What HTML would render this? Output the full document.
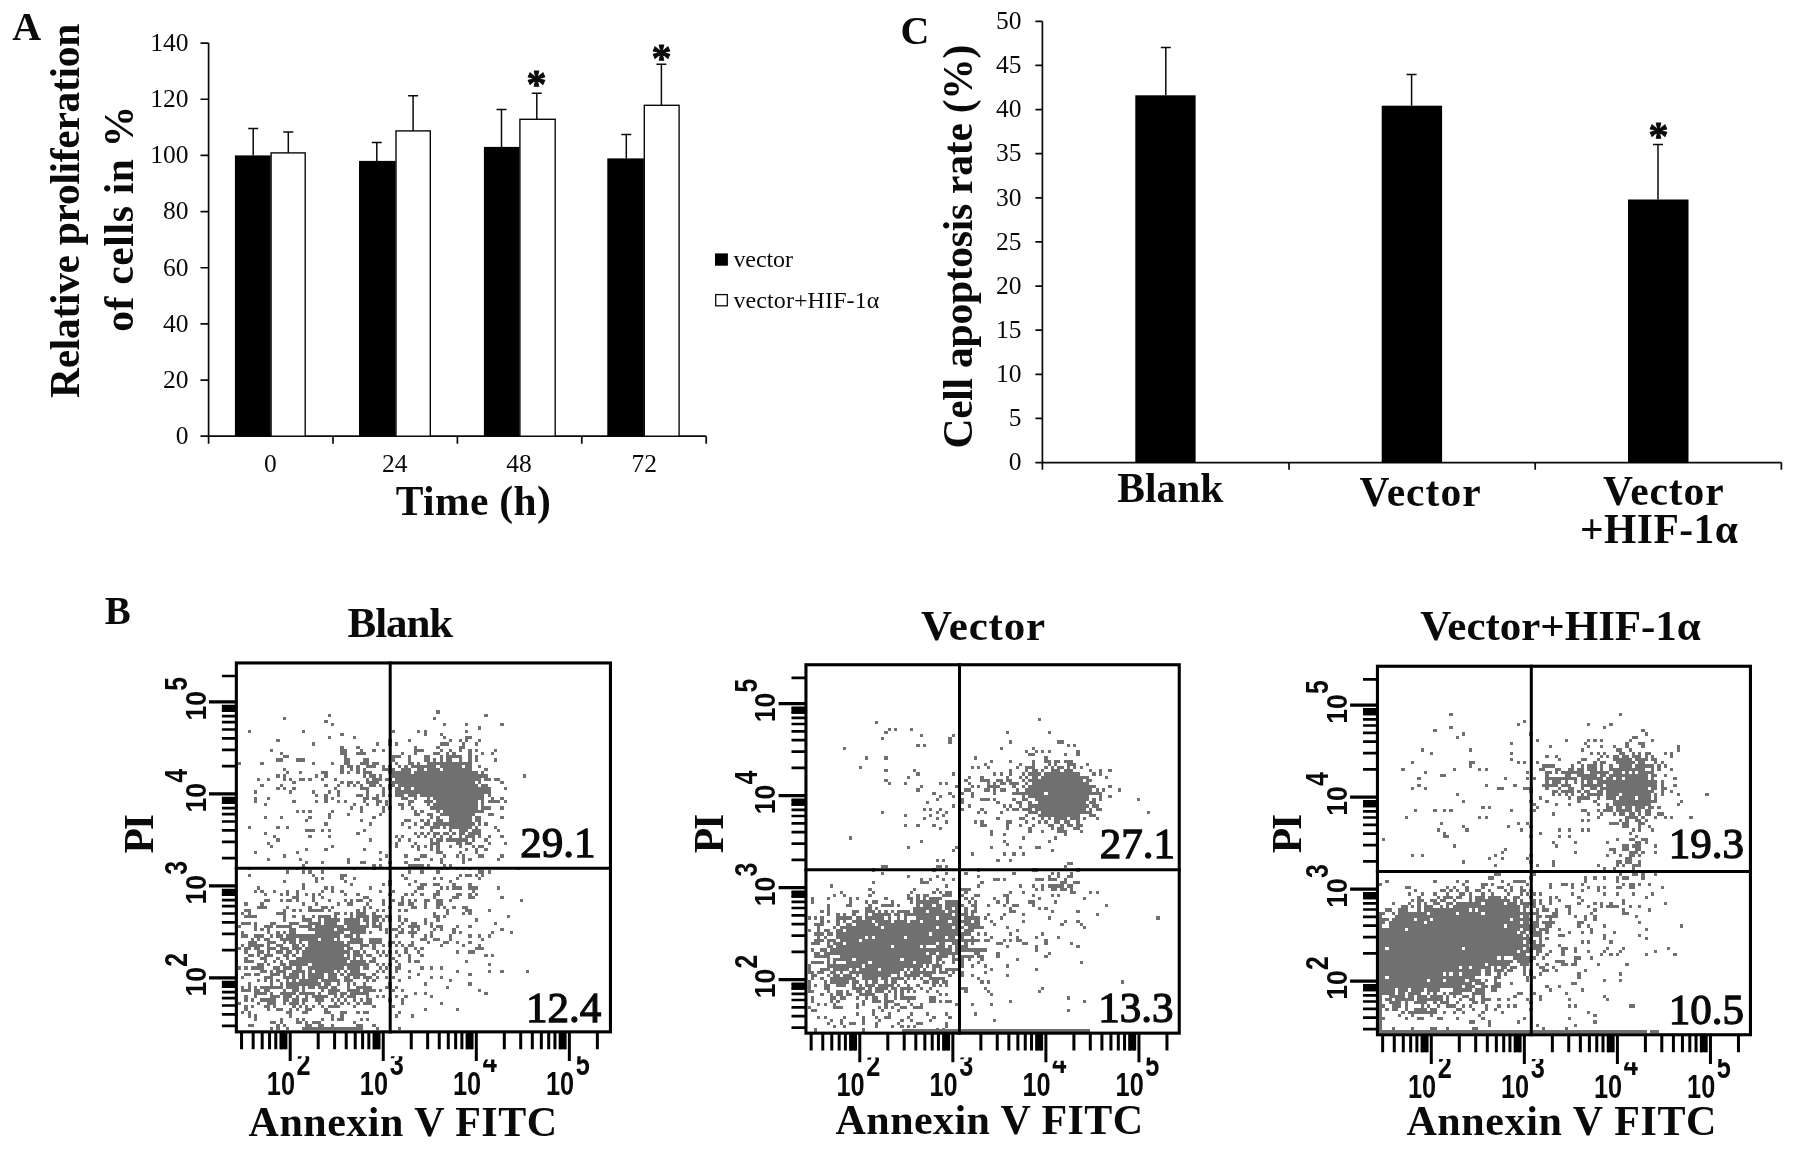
<!DOCTYPE html>
<html lang="en"><head><meta charset="utf-8"><title>Figure: HIF-1α proliferation and apoptosis</title>
<style>html,body{margin:0;padding:0;background:#fff}body{width:1795px;height:1150px;overflow:hidden}svg{display:block;will-change:transform}text{font-family:"Liberation Serif", "DejaVu Serif", serif;fill:#0a0a0a}text.a{font-family:"Liberation Sans", "DejaVu Sans", sans-serif}</style>
</head><body>
<svg width="1795" height="1150" viewBox="0 0 1795 1150">
<rect width="1795" height="1150" fill="#fff"/>
<g id="panelA">
<text x="12.2" y="40" font-size="40" font-weight="700">A</text>
<path d="M208.6 43.1V436.2M200.5 43.1H208.6M200.5 99.26H208.6M200.5 155.41H208.6M200.5 211.57H208.6M200.5 267.73H208.6M200.5 323.89H208.6M200.5 380.04H208.6M200.5 436.2H208.6M200.5 436.2H706.2M208.6 436.2V443.8M333 436.2V443.8M457.4 436.2V443.8M581.8 436.2V443.8M706.2 436.2V443.8" stroke="#0a0a0a" stroke-width="1.7" fill="none"/>
<text x="188.6" y="50.9" font-size="25.5" text-anchor="end">140</text>
<text x="188.6" y="107.06" font-size="25.5" text-anchor="end">120</text>
<text x="188.6" y="163.21" font-size="25.5" text-anchor="end">100</text>
<text x="188.6" y="219.37" font-size="25.5" text-anchor="end">80</text>
<text x="188.6" y="275.53" font-size="25.5" text-anchor="end">60</text>
<text x="188.6" y="331.69" font-size="25.5" text-anchor="end">40</text>
<text x="188.6" y="387.84" font-size="25.5" text-anchor="end">20</text>
<text x="188.6" y="444" font-size="25.5" text-anchor="end">0</text>
<rect x="234.9" y="155.4" width="35.8" height="280.8" fill="#000"/>
<rect x="359" y="160.9" width="36.6" height="275.3" fill="#000"/>
<rect x="483.9" y="146.9" width="35.6" height="289.3" fill="#000"/>
<rect x="607.3" y="158.4" width="36.6" height="277.8" fill="#000"/>
<rect x="271.1" y="152.9" width="34.1" height="283.3" fill="#fff" stroke="#0a0a0a" stroke-width="1.4"/>
<rect x="396" y="130.9" width="34.3" height="305.3" fill="#fff" stroke="#0a0a0a" stroke-width="1.4"/>
<rect x="519.9" y="119.3" width="35.3" height="316.9" fill="#fff" stroke="#0a0a0a" stroke-width="1.4"/>
<rect x="644.3" y="105.3" width="34.8" height="330.9" fill="#fff" stroke="#0a0a0a" stroke-width="1.4"/>
<path d="M253.2 155.4V128.6M248.2 128.6H258.2M376.8 160.9V142.4M371.8 142.4H381.8M501.5 146.9V109.6M496.5 109.6H506.5M626.3 158.4V134.4M621.3 134.4H631.3M288.3 152.9V132.1M283.3 132.1H293.3M413.1 130.9V95.8M408.1 95.8H418.1M536.8 119.3V93.3M531.8 93.3H541.8M661.4 105.3V64.2M656.4 64.2H666.4" stroke="#0a0a0a" stroke-width="1.5" fill="none"/>
<text x="270.4" y="471.6" font-size="25.5" text-anchor="middle">0</text>
<text x="394.7" y="471.6" font-size="25.5" text-anchor="middle">24</text>
<text x="519" y="471.6" font-size="25.5" text-anchor="middle">48</text>
<text x="644.3" y="471.6" font-size="25.5" text-anchor="middle">72</text>
<text x="395.8" y="515.3" font-size="41.5" font-weight="700" textLength="155" lengthAdjust="spacing">Time (h)</text>
<text x="536.6" y="97.3" font-size="40" font-weight="700" text-anchor="middle" stroke="#0a0a0a" stroke-width=".9">*</text>
<text x="661.4" y="70.5" font-size="40" font-weight="700" text-anchor="middle" stroke="#0a0a0a" stroke-width=".9">*</text>
<text transform="translate(79,398) rotate(-90)" font-size="41.5" font-weight="700" textLength="374.3" lengthAdjust="spacing">Relative proliferation</text>
<text transform="translate(133.3,331.8) rotate(-90)" font-size="41.5" font-weight="700" textLength="226" lengthAdjust="spacing">of cells in %</text>
<rect x="715" y="253.4" width="12.9" height="12.3" fill="#000"/>
<rect x="715.7" y="294.6" width="11.6" height="11.2" fill="#fff" stroke="#0a0a0a" stroke-width="1.3"/>
<text x="733.4" y="266.8" font-size="24" textLength="59.6" lengthAdjust="spacing">vector</text>
<text x="733.4" y="308" font-size="24" textLength="146" lengthAdjust="spacing">vector+HIF-1α</text>
</g>
<g id="panelC">
<text x="900.6" y="44" font-size="40" font-weight="700">C</text>
<path d="M1042.4 21.3V462.6M1035.4 21.3H1042.4M1035.4 65.43H1042.4M1035.4 109.56H1042.4M1035.4 153.69H1042.4M1035.4 197.82H1042.4M1035.4 241.95H1042.4M1035.4 286.08H1042.4M1035.4 330.21H1042.4M1035.4 374.34H1042.4M1035.4 418.47H1042.4M1035.4 462.6H1042.4M1035.4 462.6H1781.4M1042.4 462.6V469.8M1289 462.6V469.8M1535.2 462.6V469.8M1781.4 462.6V469.8" stroke="#0a0a0a" stroke-width="1.7" fill="none"/>
<text x="1021.6" y="29.1" font-size="25.5" text-anchor="end">50</text>
<text x="1021.6" y="73.23" font-size="25.5" text-anchor="end">45</text>
<text x="1021.6" y="117.36" font-size="25.5" text-anchor="end">40</text>
<text x="1021.6" y="161.49" font-size="25.5" text-anchor="end">35</text>
<text x="1021.6" y="205.62" font-size="25.5" text-anchor="end">30</text>
<text x="1021.6" y="249.75" font-size="25.5" text-anchor="end">25</text>
<text x="1021.6" y="293.88" font-size="25.5" text-anchor="end">20</text>
<text x="1021.6" y="338.01" font-size="25.5" text-anchor="end">15</text>
<text x="1021.6" y="382.14" font-size="25.5" text-anchor="end">10</text>
<text x="1021.6" y="426.27" font-size="25.5" text-anchor="end">5</text>
<text x="1021.6" y="470.4" font-size="25.5" text-anchor="end">0</text>
<rect x="1135.3" y="95.3" width="60.3" height="367.3" fill="#000"/>
<rect x="1381.7" y="105.7" width="60.4" height="356.9" fill="#000"/>
<rect x="1628" y="199.5" width="60.5" height="263.1" fill="#000"/>
<path d="M1165.8 95.3V47.4M1160.8 47.4H1170.8M1411.6 105.7V74.6M1406.6 74.6H1416.6M1658 199.5V144.6M1653 144.6H1663" stroke="#0a0a0a" stroke-width="1.5" fill="none"/>
<text x="1658.5" y="149.2" font-size="40" font-weight="700" text-anchor="middle" stroke="#0a0a0a" stroke-width=".9">*</text>
<text x="1117.3" y="502.2" font-size="41.5" font-weight="700" textLength="106" lengthAdjust="spacing">Blank</text>
<text x="1359.4" y="505.5" font-size="41.5" font-weight="700" textLength="121.3" lengthAdjust="spacing">Vector</text>
<text x="1603.1" y="504.7" font-size="41.5" font-weight="700" textLength="120.6" lengthAdjust="spacing">Vector</text>
<text x="1580" y="543.2" font-size="41.5" font-weight="700" textLength="157.8" lengthAdjust="spacing">+HIF-1α</text>
<text transform="translate(972,448.6) rotate(-90)" font-size="41.5" font-weight="700" textLength="404" lengthAdjust="spacing">Cell apoptosis rate (%)</text>
</g>
<defs><clipPath id="supclip"><rect x="-2" y="-18.8" width="30" height="30"/></clipPath><clipPath id="supclip4"><rect x="-2" y="-12.6" width="30" height="30"/></clipPath></defs>
<g id="panelB">
<text x="104.8" y="624.4" font-size="39" font-weight="700">B</text>
<g>
<path d="M269.9 1027.1h3.2v3.2h-3.2zM276.3 1027.1h3.2v3.2h-3.2zM285.9 1027.1h3.2v3.2h-3.2zM301.9 1027.1h6.4v3.2h-6.4zM311.5 1027.1h3.2v3.2h-3.2zM321.1 1027.1h3.2v3.2h-3.2zM375.5 1027.1h3.2v3.2h-3.2zM397.9 1027.1h3.2v3.2h-3.2zM247.5 1023.9h6.4v3.2h-6.4zM276.3 1023.9h3.2v3.2h-3.2zM282.7 1023.9h3.2v3.2h-3.2zM305.1 1023.9h6.4v3.2h-6.4zM317.9 1023.9h6.4v3.2h-6.4zM330.7 1023.9h3.2v3.2h-3.2zM356.3 1023.9h6.4v3.2h-6.4zM372.3 1023.9h3.2v3.2h-3.2zM269.9 1020.7h6.4v3.2h-6.4zM279.5 1020.7h3.2v3.2h-3.2zM295.5 1020.7h6.4v3.2h-6.4zM305.1 1020.7h3.2v3.2h-3.2zM311.5 1020.7h9.6v3.2h-9.6zM353.1 1020.7h3.2v3.2h-3.2zM253.9 1017.5h3.2v3.2h-3.2zM279.5 1017.5h3.2v3.2h-3.2zM295.5 1017.5h3.2v3.2h-3.2zM301.9 1017.5h3.2v3.2h-3.2zM321.1 1017.5h3.2v3.2h-3.2zM330.7 1017.5h3.2v3.2h-3.2zM337.1 1017.5h6.4v3.2h-6.4zM359.5 1017.5h3.2v3.2h-3.2zM365.9 1017.5h3.2v3.2h-3.2zM247.5 1014.3h3.2v3.2h-3.2zM253.9 1014.3h3.2v3.2h-3.2zM289.1 1014.3h3.2v3.2h-3.2zM330.7 1014.3h3.2v3.2h-3.2zM340.3 1014.3h3.2v3.2h-3.2zM394.7 1014.3h3.2v3.2h-3.2zM410.7 1014.3h3.2v3.2h-3.2zM241.1 1011.1h3.2v3.2h-3.2zM247.5 1011.1h3.2v3.2h-3.2zM285.9 1011.1h6.4v3.2h-6.4zM301.9 1011.1h6.4v3.2h-6.4zM324.3 1011.1h6.4v3.2h-6.4zM340.3 1011.1h6.4v3.2h-6.4zM356.3 1011.1h3.2v3.2h-3.2zM362.7 1011.1h6.4v3.2h-6.4zM397.9 1011.1h3.2v3.2h-3.2zM244.3 1007.9h3.2v3.2h-3.2zM266.7 1007.9h3.2v3.2h-3.2zM276.3 1007.9h6.4v3.2h-6.4zM289.1 1007.9h3.2v3.2h-3.2zM295.5 1007.9h3.2v3.2h-3.2zM305.1 1007.9h6.4v3.2h-6.4zM324.3 1007.9h3.2v3.2h-3.2zM423.5 1007.9h3.2v3.2h-3.2zM455.5 1007.9h3.2v3.2h-3.2zM244.3 1004.7h3.2v3.2h-3.2zM250.7 1004.7h3.2v3.2h-3.2zM263.5 1004.7h6.4v3.2h-6.4zM273.1 1004.7h3.2v3.2h-3.2zM292.3 1004.7h3.2v3.2h-3.2zM298.7 1004.7h3.2v3.2h-3.2zM305.1 1004.7h3.2v3.2h-3.2zM311.5 1004.7h3.2v3.2h-3.2zM321.1 1004.7h3.2v3.2h-3.2zM327.5 1004.7h12.8v3.2h-12.8zM353.1 1004.7h3.2v3.2h-3.2zM372.3 1004.7h3.2v3.2h-3.2zM391.5 1004.7h3.2v3.2h-3.2zM237.9 1001.5h3.2v3.2h-3.2zM257.1 1001.5h3.2v3.2h-3.2zM266.7 1001.5h9.6v3.2h-9.6zM282.7 1001.5h3.2v3.2h-3.2zM289.1 1001.5h9.6v3.2h-9.6zM301.9 1001.5h3.2v3.2h-3.2zM317.9 1001.5h3.2v3.2h-3.2zM333.9 1001.5h3.2v3.2h-3.2zM340.3 1001.5h3.2v3.2h-3.2zM346.7 1001.5h3.2v3.2h-3.2zM356.3 1001.5h3.2v3.2h-3.2zM362.7 1001.5h9.6v3.2h-9.6zM401.1 1001.5h3.2v3.2h-3.2zM439.5 1001.5h3.2v3.2h-3.2zM244.3 998.3h3.2v3.2h-3.2zM250.7 998.3h3.2v3.2h-3.2zM260.3 998.3h16v3.2h-16zM282.7 998.3h6.4v3.2h-6.4zM292.3 998.3h6.4v3.2h-6.4zM301.9 998.3h6.4v3.2h-6.4zM314.7 998.3h9.6v3.2h-9.6zM330.7 998.3h3.2v3.2h-3.2zM337.1 998.3h3.2v3.2h-3.2zM343.5 998.3h3.2v3.2h-3.2zM353.1 998.3h3.2v3.2h-3.2zM359.5 998.3h3.2v3.2h-3.2zM365.9 998.3h6.4v3.2h-6.4zM388.3 998.3h3.2v3.2h-3.2zM401.1 998.3h3.2v3.2h-3.2zM244.3 995.1h3.2v3.2h-3.2zM253.9 995.1h3.2v3.2h-3.2zM269.9 995.1h9.6v3.2h-9.6zM282.7 995.1h9.6v3.2h-9.6zM295.5 995.1h3.2v3.2h-3.2zM305.1 995.1h3.2v3.2h-3.2zM311.5 995.1h16v3.2h-16zM333.9 995.1h3.2v3.2h-3.2zM340.3 995.1h3.2v3.2h-3.2zM346.7 995.1h9.6v3.2h-9.6zM365.9 995.1h3.2v3.2h-3.2zM375.5 995.1h3.2v3.2h-3.2zM381.9 995.1h3.2v3.2h-3.2zM394.7 995.1h3.2v3.2h-3.2zM404.3 995.1h3.2v3.2h-3.2zM429.9 995.1h3.2v3.2h-3.2zM253.9 991.9h12.8v3.2h-12.8zM269.9 991.9h3.2v3.2h-3.2zM279.5 991.9h16v3.2h-16zM298.7 991.9h16v3.2h-16zM317.9 991.9h3.2v3.2h-3.2zM327.5 991.9h9.6v3.2h-9.6zM340.3 991.9h6.4v3.2h-6.4zM349.9 991.9h19.2v3.2h-19.2zM413.9 991.9h3.2v3.2h-3.2zM423.5 991.9h3.2v3.2h-3.2zM484.3 991.9h3.2v3.2h-3.2zM241.1 988.7h9.6v3.2h-9.6zM253.9 988.7h6.4v3.2h-6.4zM263.5 988.7h6.4v3.2h-6.4zM282.7 988.7h3.2v3.2h-3.2zM292.3 988.7h6.4v3.2h-6.4zM301.9 988.7h3.2v3.2h-3.2zM321.1 988.7h3.2v3.2h-3.2zM327.5 988.7h12.8v3.2h-12.8zM346.7 988.7h12.8v3.2h-12.8zM362.7 988.7h12.8v3.2h-12.8zM378.7 988.7h3.2v3.2h-3.2zM391.5 988.7h3.2v3.2h-3.2zM401.1 988.7h3.2v3.2h-3.2zM477.9 988.7h3.2v3.2h-3.2zM241.1 985.5h3.2v3.2h-3.2zM247.5 985.5h3.2v3.2h-3.2zM253.9 985.5h3.2v3.2h-3.2zM260.3 985.5h22.4v3.2h-22.4zM285.9 985.5h12.8v3.2h-12.8zM301.9 985.5h3.2v3.2h-3.2zM308.3 985.5h6.4v3.2h-6.4zM317.9 985.5h9.6v3.2h-9.6zM330.7 985.5h6.4v3.2h-6.4zM346.7 985.5h3.2v3.2h-3.2zM356.3 985.5h16v3.2h-16zM385.1 985.5h6.4v3.2h-6.4zM394.7 985.5h3.2v3.2h-3.2zM445.9 985.5h3.2v3.2h-3.2zM247.5 982.3h3.2v3.2h-3.2zM269.9 982.3h3.2v3.2h-3.2zM279.5 982.3h3.2v3.2h-3.2zM285.9 982.3h35.2v3.2h-35.2zM324.3 982.3h6.4v3.2h-6.4zM337.1 982.3h3.2v3.2h-3.2zM346.7 982.3h3.2v3.2h-3.2zM353.1 982.3h3.2v3.2h-3.2zM362.7 982.3h3.2v3.2h-3.2zM388.3 982.3h3.2v3.2h-3.2zM423.5 982.3h3.2v3.2h-3.2zM468.3 982.3h3.2v3.2h-3.2zM257.1 979.1h3.2v3.2h-3.2zM263.5 979.1h3.2v3.2h-3.2zM269.9 979.1h3.2v3.2h-3.2zM276.3 979.1h3.2v3.2h-3.2zM285.9 979.1h3.2v3.2h-3.2zM292.3 979.1h3.2v3.2h-3.2zM298.7 979.1h19.2v3.2h-19.2zM321.1 979.1h19.2v3.2h-19.2zM343.5 979.1h9.6v3.2h-9.6zM365.9 979.1h3.2v3.2h-3.2zM372.3 979.1h3.2v3.2h-3.2zM397.9 979.1h3.2v3.2h-3.2zM449.1 979.1h3.2v3.2h-3.2zM241.1 975.9h3.2v3.2h-3.2zM263.5 975.9h9.6v3.2h-9.6zM282.7 975.9h16v3.2h-16zM301.9 975.9h3.2v3.2h-3.2zM308.3 975.9h16v3.2h-16zM327.5 975.9h9.6v3.2h-9.6zM343.5 975.9h6.4v3.2h-6.4zM353.1 975.9h6.4v3.2h-6.4zM362.7 975.9h9.6v3.2h-9.6zM375.5 975.9h3.2v3.2h-3.2zM385.1 975.9h3.2v3.2h-3.2zM391.5 975.9h3.2v3.2h-3.2zM407.5 975.9h3.2v3.2h-3.2zM429.9 975.9h3.2v3.2h-3.2zM439.5 975.9h3.2v3.2h-3.2zM244.3 972.7h6.4v3.2h-6.4zM253.9 972.7h6.4v3.2h-6.4zM269.9 972.7h9.6v3.2h-9.6zM282.7 972.7h3.2v3.2h-3.2zM289.1 972.7h9.6v3.2h-9.6zM301.9 972.7h3.2v3.2h-3.2zM308.3 972.7h16v3.2h-16zM327.5 972.7h9.6v3.2h-9.6zM340.3 972.7h3.2v3.2h-3.2zM346.7 972.7h19.2v3.2h-19.2zM372.3 972.7h3.2v3.2h-3.2zM417.1 972.7h3.2v3.2h-3.2zM468.3 972.7h3.2v3.2h-3.2zM260.3 969.5h6.4v3.2h-6.4zM269.9 969.5h3.2v3.2h-3.2zM276.3 969.5h9.6v3.2h-9.6zM292.3 969.5h12.8v3.2h-12.8zM308.3 969.5h3.2v3.2h-3.2zM314.7 969.5h19.2v3.2h-19.2zM337.1 969.5h3.2v3.2h-3.2zM343.5 969.5h3.2v3.2h-3.2zM349.9 969.5h9.6v3.2h-9.6zM375.5 969.5h3.2v3.2h-3.2zM381.9 969.5h3.2v3.2h-3.2zM394.7 969.5h3.2v3.2h-3.2zM407.5 969.5h3.2v3.2h-3.2zM455.5 969.5h3.2v3.2h-3.2zM487.5 969.5h3.2v3.2h-3.2zM500.3 969.5h3.2v3.2h-3.2zM525.9 969.5h3.2v3.2h-3.2zM237.9 966.3h3.2v3.2h-3.2zM244.3 966.3h3.2v3.2h-3.2zM250.7 966.3h12.8v3.2h-12.8zM273.1 966.3h6.4v3.2h-6.4zM282.7 966.3h9.6v3.2h-9.6zM295.5 966.3h6.4v3.2h-6.4zM308.3 966.3h35.2v3.2h-35.2zM346.7 966.3h12.8v3.2h-12.8zM362.7 966.3h6.4v3.2h-6.4zM378.7 966.3h3.2v3.2h-3.2zM385.1 966.3h3.2v3.2h-3.2zM394.7 966.3h6.4v3.2h-6.4zM420.3 966.3h3.2v3.2h-3.2zM429.9 966.3h3.2v3.2h-3.2zM439.5 966.3h3.2v3.2h-3.2zM257.1 963.1h6.4v3.2h-6.4zM266.7 963.1h3.2v3.2h-3.2zM279.5 963.1h6.4v3.2h-6.4zM289.1 963.1h19.2v3.2h-19.2zM311.5 963.1h57.6v3.2h-57.6zM375.5 963.1h3.2v3.2h-3.2zM381.9 963.1h3.2v3.2h-3.2zM388.3 963.1h3.2v3.2h-3.2zM397.9 963.1h3.2v3.2h-3.2zM487.5 963.1h3.2v3.2h-3.2zM244.3 959.9h9.6v3.2h-9.6zM263.5 959.9h3.2v3.2h-3.2zM273.1 959.9h3.2v3.2h-3.2zM279.5 959.9h3.2v3.2h-3.2zM289.1 959.9h57.6v3.2h-57.6zM349.9 959.9h16v3.2h-16zM369.1 959.9h6.4v3.2h-6.4zM394.7 959.9h3.2v3.2h-3.2zM407.5 959.9h3.2v3.2h-3.2zM413.9 959.9h6.4v3.2h-6.4zM465.1 959.9h3.2v3.2h-3.2zM244.3 956.7h3.2v3.2h-3.2zM260.3 956.7h6.4v3.2h-6.4zM276.3 956.7h3.2v3.2h-3.2zM285.9 956.7h3.2v3.2h-3.2zM295.5 956.7h54.4v3.2h-54.4zM353.1 956.7h3.2v3.2h-3.2zM359.5 956.7h3.2v3.2h-3.2zM372.3 956.7h3.2v3.2h-3.2zM391.5 956.7h3.2v3.2h-3.2zM407.5 956.7h3.2v3.2h-3.2zM247.5 953.5h6.4v3.2h-6.4zM257.1 953.5h3.2v3.2h-3.2zM263.5 953.5h9.6v3.2h-9.6zM282.7 953.5h6.4v3.2h-6.4zM292.3 953.5h3.2v3.2h-3.2zM301.9 953.5h41.6v3.2h-41.6zM346.7 953.5h3.2v3.2h-3.2zM353.1 953.5h9.6v3.2h-9.6zM365.9 953.5h6.4v3.2h-6.4zM378.7 953.5h3.2v3.2h-3.2zM385.1 953.5h3.2v3.2h-3.2zM397.9 953.5h3.2v3.2h-3.2zM407.5 953.5h3.2v3.2h-3.2zM420.3 953.5h3.2v3.2h-3.2zM484.3 953.5h3.2v3.2h-3.2zM490.7 953.5h3.2v3.2h-3.2zM244.3 950.3h3.2v3.2h-3.2zM257.1 950.3h6.4v3.2h-6.4zM266.7 950.3h3.2v3.2h-3.2zM276.3 950.3h6.4v3.2h-6.4zM285.9 950.3h6.4v3.2h-6.4zM295.5 950.3h3.2v3.2h-3.2zM301.9 950.3h48v3.2h-48zM353.1 950.3h6.4v3.2h-6.4zM362.7 950.3h3.2v3.2h-3.2zM375.5 950.3h3.2v3.2h-3.2zM381.9 950.3h3.2v3.2h-3.2zM388.3 950.3h3.2v3.2h-3.2zM394.7 950.3h3.2v3.2h-3.2zM404.3 950.3h3.2v3.2h-3.2zM417.1 950.3h3.2v3.2h-3.2zM455.5 950.3h3.2v3.2h-3.2zM468.3 950.3h6.4v3.2h-6.4zM237.9 947.1h3.2v3.2h-3.2zM244.3 947.1h6.4v3.2h-6.4zM253.9 947.1h6.4v3.2h-6.4zM266.7 947.1h9.6v3.2h-9.6zM279.5 947.1h9.6v3.2h-9.6zM292.3 947.1h9.6v3.2h-9.6zM305.1 947.1h38.4v3.2h-38.4zM346.7 947.1h6.4v3.2h-6.4zM359.5 947.1h3.2v3.2h-3.2zM372.3 947.1h3.2v3.2h-3.2zM404.3 947.1h3.2v3.2h-3.2zM413.9 947.1h3.2v3.2h-3.2zM420.3 947.1h3.2v3.2h-3.2zM474.7 947.1h9.6v3.2h-9.6zM241.1 943.9h3.2v3.2h-3.2zM247.5 943.9h16v3.2h-16zM266.7 943.9h3.2v3.2h-3.2zM276.3 943.9h6.4v3.2h-6.4zM292.3 943.9h6.4v3.2h-6.4zM301.9 943.9h3.2v3.2h-3.2zM308.3 943.9h41.6v3.2h-41.6zM359.5 943.9h9.6v3.2h-9.6zM372.3 943.9h3.2v3.2h-3.2zM381.9 943.9h3.2v3.2h-3.2zM388.3 943.9h3.2v3.2h-3.2zM394.7 943.9h3.2v3.2h-3.2zM401.1 943.9h3.2v3.2h-3.2zM407.5 943.9h6.4v3.2h-6.4zM439.5 943.9h3.2v3.2h-3.2zM461.9 943.9h3.2v3.2h-3.2zM477.9 943.9h3.2v3.2h-3.2zM247.5 940.7h9.6v3.2h-9.6zM266.7 940.7h9.6v3.2h-9.6zM282.7 940.7h3.2v3.2h-3.2zM289.1 940.7h6.4v3.2h-6.4zM298.7 940.7h3.2v3.2h-3.2zM308.3 940.7h35.2v3.2h-35.2zM346.7 940.7h16v3.2h-16zM369.1 940.7h12.8v3.2h-12.8zM388.3 940.7h6.4v3.2h-6.4zM397.9 940.7h3.2v3.2h-3.2zM410.7 940.7h3.2v3.2h-3.2zM426.7 940.7h3.2v3.2h-3.2zM442.7 940.7h6.4v3.2h-6.4zM455.5 940.7h3.2v3.2h-3.2zM468.3 940.7h3.2v3.2h-3.2zM250.7 937.5h3.2v3.2h-3.2zM257.1 937.5h3.2v3.2h-3.2zM263.5 937.5h6.4v3.2h-6.4zM279.5 937.5h16v3.2h-16zM298.7 937.5h19.2v3.2h-19.2zM321.1 937.5h12.8v3.2h-12.8zM337.1 937.5h3.2v3.2h-3.2zM349.9 937.5h12.8v3.2h-12.8zM369.1 937.5h12.8v3.2h-12.8zM420.3 937.5h6.4v3.2h-6.4zM433.1 937.5h6.4v3.2h-6.4zM449.1 937.5h3.2v3.2h-3.2zM481.1 937.5h3.2v3.2h-3.2zM241.1 934.3h6.4v3.2h-6.4zM253.9 934.3h9.6v3.2h-9.6zM269.9 934.3h3.2v3.2h-3.2zM276.3 934.3h6.4v3.2h-6.4zM285.9 934.3h54.4v3.2h-54.4zM343.5 934.3h9.6v3.2h-9.6zM356.3 934.3h3.2v3.2h-3.2zM394.7 934.3h3.2v3.2h-3.2zM410.7 934.3h3.2v3.2h-3.2zM423.5 934.3h3.2v3.2h-3.2zM429.9 934.3h3.2v3.2h-3.2zM449.1 934.3h3.2v3.2h-3.2zM468.3 934.3h3.2v3.2h-3.2zM477.9 934.3h3.2v3.2h-3.2zM487.5 934.3h3.2v3.2h-3.2zM241.1 931.1h3.2v3.2h-3.2zM266.7 931.1h3.2v3.2h-3.2zM276.3 931.1h3.2v3.2h-3.2zM282.7 931.1h3.2v3.2h-3.2zM289.1 931.1h6.4v3.2h-6.4zM314.7 931.1h28.8v3.2h-28.8zM349.9 931.1h16v3.2h-16zM369.1 931.1h3.2v3.2h-3.2zM385.1 931.1h3.2v3.2h-3.2zM397.9 931.1h6.4v3.2h-6.4zM407.5 931.1h9.6v3.2h-9.6zM429.9 931.1h3.2v3.2h-3.2zM452.3 931.1h3.2v3.2h-3.2zM458.7 931.1h3.2v3.2h-3.2zM490.7 931.1h3.2v3.2h-3.2zM509.9 931.1h3.2v3.2h-3.2zM253.9 927.9h3.2v3.2h-3.2zM260.3 927.9h3.2v3.2h-3.2zM266.7 927.9h3.2v3.2h-3.2zM289.1 927.9h6.4v3.2h-6.4zM308.3 927.9h25.6v3.2h-25.6zM337.1 927.9h28.8v3.2h-28.8zM378.7 927.9h3.2v3.2h-3.2zM385.1 927.9h3.2v3.2h-3.2zM391.5 927.9h6.4v3.2h-6.4zM401.1 927.9h3.2v3.2h-3.2zM410.7 927.9h3.2v3.2h-3.2zM417.1 927.9h3.2v3.2h-3.2zM433.1 927.9h3.2v3.2h-3.2zM439.5 927.9h3.2v3.2h-3.2zM452.3 927.9h3.2v3.2h-3.2zM500.3 927.9h3.2v3.2h-3.2zM237.9 924.7h3.2v3.2h-3.2zM253.9 924.7h3.2v3.2h-3.2zM263.5 924.7h9.6v3.2h-9.6zM276.3 924.7h16v3.2h-16zM298.7 924.7h12.8v3.2h-12.8zM314.7 924.7h28.8v3.2h-28.8zM346.7 924.7h22.4v3.2h-22.4zM372.3 924.7h9.6v3.2h-9.6zM397.9 924.7h3.2v3.2h-3.2zM407.5 924.7h12.8v3.2h-12.8zM429.9 924.7h3.2v3.2h-3.2zM436.3 924.7h6.4v3.2h-6.4zM455.5 924.7h3.2v3.2h-3.2zM468.3 924.7h3.2v3.2h-3.2zM241.1 921.5h9.6v3.2h-9.6zM253.9 921.5h3.2v3.2h-3.2zM269.9 921.5h6.4v3.2h-6.4zM289.1 921.5h9.6v3.2h-9.6zM308.3 921.5h12.8v3.2h-12.8zM324.3 921.5h12.8v3.2h-12.8zM343.5 921.5h16v3.2h-16zM365.9 921.5h3.2v3.2h-3.2zM372.3 921.5h3.2v3.2h-3.2zM378.7 921.5h3.2v3.2h-3.2zM401.1 921.5h3.2v3.2h-3.2zM410.7 921.5h6.4v3.2h-6.4zM423.5 921.5h3.2v3.2h-3.2zM429.9 921.5h3.2v3.2h-3.2zM493.9 921.5h3.2v3.2h-3.2zM282.7 918.3h3.2v3.2h-3.2zM301.9 918.3h9.6v3.2h-9.6zM317.9 918.3h3.2v3.2h-3.2zM324.3 918.3h16v3.2h-16zM343.5 918.3h16v3.2h-16zM362.7 918.3h6.4v3.2h-6.4zM372.3 918.3h6.4v3.2h-6.4zM381.9 918.3h3.2v3.2h-3.2zM388.3 918.3h3.2v3.2h-3.2zM397.9 918.3h3.2v3.2h-3.2zM404.3 918.3h3.2v3.2h-3.2zM423.5 918.3h3.2v3.2h-3.2zM436.3 918.3h3.2v3.2h-3.2zM474.7 918.3h3.2v3.2h-3.2zM244.3 915.1h12.8v3.2h-12.8zM282.7 915.1h3.2v3.2h-3.2zM292.3 915.1h3.2v3.2h-3.2zM301.9 915.1h3.2v3.2h-3.2zM311.5 915.1h3.2v3.2h-3.2zM317.9 915.1h12.8v3.2h-12.8zM333.9 915.1h3.2v3.2h-3.2zM349.9 915.1h3.2v3.2h-3.2zM356.3 915.1h12.8v3.2h-12.8zM372.3 915.1h9.6v3.2h-9.6zM385.1 915.1h6.4v3.2h-6.4zM397.9 915.1h3.2v3.2h-3.2zM433.1 915.1h6.4v3.2h-6.4zM442.7 915.1h3.2v3.2h-3.2zM506.7 915.1h3.2v3.2h-3.2zM241.1 911.9h3.2v3.2h-3.2zM247.5 911.9h3.2v3.2h-3.2zM276.3 911.9h9.6v3.2h-9.6zM333.9 911.9h6.4v3.2h-6.4zM343.5 911.9h3.2v3.2h-3.2zM349.9 911.9h3.2v3.2h-3.2zM356.3 911.9h9.6v3.2h-9.6zM372.3 911.9h3.2v3.2h-3.2zM433.1 911.9h3.2v3.2h-3.2zM445.9 911.9h3.2v3.2h-3.2zM461.9 911.9h3.2v3.2h-3.2zM468.3 911.9h3.2v3.2h-3.2zM244.3 908.7h6.4v3.2h-6.4zM282.7 908.7h3.2v3.2h-3.2zM292.3 908.7h3.2v3.2h-3.2zM298.7 908.7h3.2v3.2h-3.2zM308.3 908.7h16v3.2h-16zM327.5 908.7h3.2v3.2h-3.2zM356.3 908.7h3.2v3.2h-3.2zM362.7 908.7h3.2v3.2h-3.2zM375.5 908.7h3.2v3.2h-3.2zM381.9 908.7h3.2v3.2h-3.2zM397.9 908.7h3.2v3.2h-3.2zM404.3 908.7h3.2v3.2h-3.2zM445.9 908.7h3.2v3.2h-3.2zM465.1 908.7h6.4v3.2h-6.4zM487.5 908.7h3.2v3.2h-3.2zM257.1 905.5h9.6v3.2h-9.6zM285.9 905.5h3.2v3.2h-3.2zM308.3 905.5h3.2v3.2h-3.2zM321.1 905.5h6.4v3.2h-6.4zM330.7 905.5h3.2v3.2h-3.2zM362.7 905.5h3.2v3.2h-3.2zM369.1 905.5h3.2v3.2h-3.2zM388.3 905.5h3.2v3.2h-3.2zM410.7 905.5h6.4v3.2h-6.4zM423.5 905.5h3.2v3.2h-3.2zM436.3 905.5h3.2v3.2h-3.2zM442.7 905.5h3.2v3.2h-3.2zM452.3 905.5h3.2v3.2h-3.2zM461.9 905.5h6.4v3.2h-6.4zM244.3 902.3h3.2v3.2h-3.2zM260.3 902.3h3.2v3.2h-3.2zM301.9 902.3h3.2v3.2h-3.2zM314.7 902.3h3.2v3.2h-3.2zM337.1 902.3h3.2v3.2h-3.2zM346.7 902.3h6.4v3.2h-6.4zM365.9 902.3h3.2v3.2h-3.2zM381.9 902.3h3.2v3.2h-3.2zM397.9 902.3h6.4v3.2h-6.4zM407.5 902.3h6.4v3.2h-6.4zM423.5 902.3h3.2v3.2h-3.2zM436.3 902.3h6.4v3.2h-6.4zM263.5 899.1h6.4v3.2h-6.4zM279.5 899.1h3.2v3.2h-3.2zM285.9 899.1h6.4v3.2h-6.4zM295.5 899.1h3.2v3.2h-3.2zM311.5 899.1h3.2v3.2h-3.2zM327.5 899.1h3.2v3.2h-3.2zM343.5 899.1h3.2v3.2h-3.2zM349.9 899.1h3.2v3.2h-3.2zM356.3 899.1h6.4v3.2h-6.4zM369.1 899.1h3.2v3.2h-3.2zM381.9 899.1h3.2v3.2h-3.2zM391.5 899.1h3.2v3.2h-3.2zM401.1 899.1h3.2v3.2h-3.2zM407.5 899.1h3.2v3.2h-3.2zM413.9 899.1h3.2v3.2h-3.2zM423.5 899.1h6.4v3.2h-6.4zM436.3 899.1h6.4v3.2h-6.4zM449.1 899.1h3.2v3.2h-3.2zM519.5 899.1h3.2v3.2h-3.2zM292.3 895.9h6.4v3.2h-6.4zM311.5 895.9h3.2v3.2h-3.2zM321.1 895.9h3.2v3.2h-3.2zM362.7 895.9h6.4v3.2h-6.4zM401.1 895.9h3.2v3.2h-3.2zM433.1 895.9h3.2v3.2h-3.2zM452.3 895.9h6.4v3.2h-6.4zM468.3 895.9h6.4v3.2h-6.4zM500.3 895.9h3.2v3.2h-3.2zM263.5 892.7h3.2v3.2h-3.2zM279.5 892.7h3.2v3.2h-3.2zM285.9 892.7h3.2v3.2h-3.2zM295.5 892.7h3.2v3.2h-3.2zM305.1 892.7h3.2v3.2h-3.2zM311.5 892.7h3.2v3.2h-3.2zM317.9 892.7h3.2v3.2h-3.2zM343.5 892.7h3.2v3.2h-3.2zM356.3 892.7h3.2v3.2h-3.2zM388.3 892.7h3.2v3.2h-3.2zM404.3 892.7h3.2v3.2h-3.2zM410.7 892.7h3.2v3.2h-3.2zM420.3 892.7h3.2v3.2h-3.2zM433.1 892.7h6.4v3.2h-6.4zM455.5 892.7h6.4v3.2h-6.4zM468.3 892.7h3.2v3.2h-3.2zM474.7 892.7h3.2v3.2h-3.2zM253.9 889.5h3.2v3.2h-3.2zM260.3 889.5h3.2v3.2h-3.2zM273.1 889.5h3.2v3.2h-3.2zM285.9 889.5h3.2v3.2h-3.2zM295.5 889.5h3.2v3.2h-3.2zM321.1 889.5h3.2v3.2h-3.2zM330.7 889.5h3.2v3.2h-3.2zM340.3 889.5h3.2v3.2h-3.2zM378.7 889.5h3.2v3.2h-3.2zM391.5 889.5h3.2v3.2h-3.2zM413.9 889.5h3.2v3.2h-3.2zM436.3 889.5h3.2v3.2h-3.2zM471.5 889.5h3.2v3.2h-3.2zM257.1 886.3h3.2v3.2h-3.2zM301.9 886.3h3.2v3.2h-3.2zM324.3 886.3h3.2v3.2h-3.2zM330.7 886.3h3.2v3.2h-3.2zM369.1 886.3h3.2v3.2h-3.2zM417.1 886.3h6.4v3.2h-6.4zM439.5 886.3h3.2v3.2h-3.2zM445.9 886.3h3.2v3.2h-3.2zM452.3 886.3h9.6v3.2h-9.6zM468.3 886.3h9.6v3.2h-9.6zM497.1 886.3h3.2v3.2h-3.2zM301.9 883.1h3.2v3.2h-3.2zM349.9 883.1h3.2v3.2h-3.2zM381.9 883.1h3.2v3.2h-3.2zM388.3 883.1h3.2v3.2h-3.2zM407.5 883.1h3.2v3.2h-3.2zM420.3 883.1h6.4v3.2h-6.4zM433.1 883.1h6.4v3.2h-6.4zM452.3 883.1h3.2v3.2h-3.2zM468.3 883.1h3.2v3.2h-3.2zM282.7 879.9h3.2v3.2h-3.2zM314.7 879.9h3.2v3.2h-3.2zM343.5 879.9h3.2v3.2h-3.2zM388.3 879.9h3.2v3.2h-3.2zM413.9 879.9h3.2v3.2h-3.2zM449.1 879.9h3.2v3.2h-3.2zM314.7 876.7h3.2v3.2h-3.2zM321.1 876.7h3.2v3.2h-3.2zM340.3 876.7h3.2v3.2h-3.2zM353.1 876.7h3.2v3.2h-3.2zM404.3 876.7h3.2v3.2h-3.2zM433.1 876.7h3.2v3.2h-3.2zM439.5 876.7h3.2v3.2h-3.2zM455.5 876.7h3.2v3.2h-3.2zM477.9 876.7h3.2v3.2h-3.2zM247.5 873.5h3.2v3.2h-3.2zM311.5 873.5h3.2v3.2h-3.2zM340.3 873.5h6.4v3.2h-6.4zM401.1 873.5h3.2v3.2h-3.2zM458.7 873.5h3.2v3.2h-3.2zM465.1 873.5h6.4v3.2h-6.4zM474.7 873.5h3.2v3.2h-3.2zM481.1 873.5h3.2v3.2h-3.2zM285.9 870.3h3.2v3.2h-3.2zM301.9 870.3h3.2v3.2h-3.2zM308.3 870.3h3.2v3.2h-3.2zM321.1 870.3h3.2v3.2h-3.2zM407.5 870.3h3.2v3.2h-3.2zM420.3 870.3h3.2v3.2h-3.2zM436.3 870.3h3.2v3.2h-3.2zM477.9 870.3h6.4v3.2h-6.4zM487.5 870.3h3.2v3.2h-3.2zM247.5 867.1h3.2v3.2h-3.2zM295.5 867.1h3.2v3.2h-3.2zM353.1 867.1h3.2v3.2h-3.2zM372.3 867.1h3.2v3.2h-3.2zM388.3 867.1h3.2v3.2h-3.2zM439.5 867.1h3.2v3.2h-3.2zM445.9 867.1h3.2v3.2h-3.2zM455.5 867.1h3.2v3.2h-3.2zM461.9 867.1h3.2v3.2h-3.2zM468.3 867.1h3.2v3.2h-3.2zM477.9 867.1h3.2v3.2h-3.2zM516.3 867.1h3.2v3.2h-3.2zM301.9 863.9h3.2v3.2h-3.2zM372.3 863.9h3.2v3.2h-3.2zM378.7 863.9h3.2v3.2h-3.2zM407.5 863.9h16v3.2h-16zM426.7 863.9h3.2v3.2h-3.2zM442.7 863.9h3.2v3.2h-3.2zM449.1 863.9h3.2v3.2h-3.2zM305.1 860.7h3.2v3.2h-3.2zM321.1 860.7h3.2v3.2h-3.2zM346.7 860.7h3.2v3.2h-3.2zM359.5 860.7h6.4v3.2h-6.4zM388.3 860.7h3.2v3.2h-3.2zM404.3 860.7h3.2v3.2h-3.2zM439.5 860.7h3.2v3.2h-3.2zM461.9 860.7h3.2v3.2h-3.2zM266.7 857.5h3.2v3.2h-3.2zM298.7 857.5h3.2v3.2h-3.2zM346.7 857.5h3.2v3.2h-3.2zM378.7 857.5h3.2v3.2h-3.2zM413.9 857.5h6.4v3.2h-6.4zM429.9 857.5h3.2v3.2h-3.2zM439.5 857.5h3.2v3.2h-3.2zM461.9 857.5h3.2v3.2h-3.2zM468.3 857.5h3.2v3.2h-3.2zM497.1 857.5h3.2v3.2h-3.2zM282.7 854.3h3.2v3.2h-3.2zM385.1 854.3h3.2v3.2h-3.2zM404.3 854.3h3.2v3.2h-3.2zM420.3 854.3h6.4v3.2h-6.4zM442.7 854.3h3.2v3.2h-3.2zM455.5 854.3h3.2v3.2h-3.2zM461.9 854.3h3.2v3.2h-3.2zM477.9 854.3h6.4v3.2h-6.4zM500.3 854.3h3.2v3.2h-3.2zM253.9 851.1h3.2v3.2h-3.2zM295.5 851.1h3.2v3.2h-3.2zM378.7 851.1h3.2v3.2h-3.2zM436.3 851.1h6.4v3.2h-6.4zM458.7 851.1h3.2v3.2h-3.2zM474.7 851.1h3.2v3.2h-3.2zM305.1 847.9h3.2v3.2h-3.2zM324.3 847.9h3.2v3.2h-3.2zM362.7 847.9h3.2v3.2h-3.2zM417.1 847.9h3.2v3.2h-3.2zM429.9 847.9h3.2v3.2h-3.2zM436.3 847.9h3.2v3.2h-3.2zM465.1 847.9h3.2v3.2h-3.2zM474.7 847.9h3.2v3.2h-3.2zM484.3 847.9h3.2v3.2h-3.2zM269.9 844.7h3.2v3.2h-3.2zM330.7 844.7h3.2v3.2h-3.2zM394.7 844.7h3.2v3.2h-3.2zM410.7 844.7h3.2v3.2h-3.2zM417.1 844.7h3.2v3.2h-3.2zM423.5 844.7h3.2v3.2h-3.2zM429.9 844.7h3.2v3.2h-3.2zM436.3 844.7h3.2v3.2h-3.2zM449.1 844.7h3.2v3.2h-3.2zM458.7 844.7h3.2v3.2h-3.2zM471.5 844.7h3.2v3.2h-3.2zM477.9 844.7h6.4v3.2h-6.4zM266.7 841.5h3.2v3.2h-3.2zM394.7 841.5h3.2v3.2h-3.2zM413.9 841.5h3.2v3.2h-3.2zM429.9 841.5h9.6v3.2h-9.6zM455.5 841.5h6.4v3.2h-6.4zM465.1 841.5h6.4v3.2h-6.4zM487.5 841.5h3.2v3.2h-3.2zM503.5 841.5h3.2v3.2h-3.2zM276.3 838.3h3.2v3.2h-3.2zM369.1 838.3h3.2v3.2h-3.2zM397.9 838.3h3.2v3.2h-3.2zM407.5 838.3h3.2v3.2h-3.2zM429.9 838.3h3.2v3.2h-3.2zM436.3 838.3h6.4v3.2h-6.4zM445.9 838.3h22.4v3.2h-22.4zM471.5 838.3h3.2v3.2h-3.2zM484.3 838.3h3.2v3.2h-3.2zM273.1 835.1h3.2v3.2h-3.2zM308.3 835.1h3.2v3.2h-3.2zM327.5 835.1h3.2v3.2h-3.2zM394.7 835.1h3.2v3.2h-3.2zM401.1 835.1h3.2v3.2h-3.2zM417.1 835.1h3.2v3.2h-3.2zM423.5 835.1h3.2v3.2h-3.2zM433.1 835.1h3.2v3.2h-3.2zM439.5 835.1h3.2v3.2h-3.2zM449.1 835.1h3.2v3.2h-3.2zM458.7 835.1h3.2v3.2h-3.2zM465.1 835.1h9.6v3.2h-9.6zM477.9 835.1h3.2v3.2h-3.2zM487.5 835.1h3.2v3.2h-3.2zM500.3 835.1h3.2v3.2h-3.2zM263.5 831.9h3.2v3.2h-3.2zM356.3 831.9h3.2v3.2h-3.2zM413.9 831.9h3.2v3.2h-3.2zM420.3 831.9h3.2v3.2h-3.2zM426.7 831.9h3.2v3.2h-3.2zM433.1 831.9h6.4v3.2h-6.4zM442.7 831.9h6.4v3.2h-6.4zM452.3 831.9h3.2v3.2h-3.2zM458.7 831.9h6.4v3.2h-6.4zM468.3 831.9h12.8v3.2h-12.8zM305.1 828.7h9.6v3.2h-9.6zM321.1 828.7h3.2v3.2h-3.2zM327.5 828.7h3.2v3.2h-3.2zM362.7 828.7h3.2v3.2h-3.2zM429.9 828.7h3.2v3.2h-3.2zM449.1 828.7h3.2v3.2h-3.2zM458.7 828.7h9.6v3.2h-9.6zM471.5 828.7h9.6v3.2h-9.6zM497.1 828.7h3.2v3.2h-3.2zM247.5 825.5h3.2v3.2h-3.2zM276.3 825.5h3.2v3.2h-3.2zM285.9 825.5h3.2v3.2h-3.2zM407.5 825.5h3.2v3.2h-3.2zM420.3 825.5h3.2v3.2h-3.2zM429.9 825.5h9.6v3.2h-9.6zM442.7 825.5h3.2v3.2h-3.2zM449.1 825.5h22.4v3.2h-22.4zM474.7 825.5h3.2v3.2h-3.2zM493.9 825.5h3.2v3.2h-3.2zM324.3 822.3h3.2v3.2h-3.2zM369.1 822.3h3.2v3.2h-3.2zM401.1 822.3h3.2v3.2h-3.2zM413.9 822.3h3.2v3.2h-3.2zM423.5 822.3h6.4v3.2h-6.4zM433.1 822.3h41.6v3.2h-41.6zM477.9 822.3h3.2v3.2h-3.2zM484.3 822.3h3.2v3.2h-3.2zM305.1 819.1h3.2v3.2h-3.2zM359.5 819.1h3.2v3.2h-3.2zM404.3 819.1h6.4v3.2h-6.4zM420.3 819.1h3.2v3.2h-3.2zM426.7 819.1h3.2v3.2h-3.2zM436.3 819.1h6.4v3.2h-6.4zM449.1 819.1h22.4v3.2h-22.4zM474.7 819.1h6.4v3.2h-6.4zM263.5 815.9h3.2v3.2h-3.2zM279.5 815.9h3.2v3.2h-3.2zM308.3 815.9h3.2v3.2h-3.2zM327.5 815.9h3.2v3.2h-3.2zM372.3 815.9h3.2v3.2h-3.2zM429.9 815.9h3.2v3.2h-3.2zM436.3 815.9h3.2v3.2h-3.2zM449.1 815.9h22.4v3.2h-22.4zM474.7 815.9h6.4v3.2h-6.4zM500.3 815.9h3.2v3.2h-3.2zM327.5 812.7h3.2v3.2h-3.2zM346.7 812.7h3.2v3.2h-3.2zM378.7 812.7h3.2v3.2h-3.2zM413.9 812.7h6.4v3.2h-6.4zM426.7 812.7h6.4v3.2h-6.4zM439.5 812.7h35.2v3.2h-35.2zM487.5 812.7h6.4v3.2h-6.4zM295.5 809.5h3.2v3.2h-3.2zM301.9 809.5h3.2v3.2h-3.2zM308.3 809.5h3.2v3.2h-3.2zM330.7 809.5h3.2v3.2h-3.2zM359.5 809.5h3.2v3.2h-3.2zM381.9 809.5h3.2v3.2h-3.2zM413.9 809.5h3.2v3.2h-3.2zM420.3 809.5h3.2v3.2h-3.2zM436.3 809.5h3.2v3.2h-3.2zM442.7 809.5h41.6v3.2h-41.6zM349.9 806.3h3.2v3.2h-3.2zM359.5 806.3h3.2v3.2h-3.2zM381.9 806.3h3.2v3.2h-3.2zM388.3 806.3h3.2v3.2h-3.2zM401.1 806.3h3.2v3.2h-3.2zM410.7 806.3h3.2v3.2h-3.2zM429.9 806.3h48v3.2h-48zM481.1 806.3h9.6v3.2h-9.6zM500.3 806.3h3.2v3.2h-3.2zM263.5 803.1h3.2v3.2h-3.2zM353.1 803.1h3.2v3.2h-3.2zM365.9 803.1h3.2v3.2h-3.2zM375.5 803.1h3.2v3.2h-3.2zM385.1 803.1h3.2v3.2h-3.2zM397.9 803.1h6.4v3.2h-6.4zM407.5 803.1h3.2v3.2h-3.2zM426.7 803.1h3.2v3.2h-3.2zM433.1 803.1h44.8v3.2h-44.8zM481.1 803.1h3.2v3.2h-3.2zM253.9 799.9h3.2v3.2h-3.2zM292.3 799.9h3.2v3.2h-3.2zM314.7 799.9h3.2v3.2h-3.2zM324.3 799.9h3.2v3.2h-3.2zM337.1 799.9h3.2v3.2h-3.2zM343.5 799.9h3.2v3.2h-3.2zM362.7 799.9h3.2v3.2h-3.2zM375.5 799.9h6.4v3.2h-6.4zM385.1 799.9h3.2v3.2h-3.2zM407.5 799.9h6.4v3.2h-6.4zM423.5 799.9h9.6v3.2h-9.6zM436.3 799.9h41.6v3.2h-41.6zM481.1 799.9h3.2v3.2h-3.2zM487.5 799.9h12.8v3.2h-12.8zM503.5 799.9h3.2v3.2h-3.2zM253.9 796.7h3.2v3.2h-3.2zM266.7 796.7h3.2v3.2h-3.2zM324.3 796.7h3.2v3.2h-3.2zM330.7 796.7h3.2v3.2h-3.2zM362.7 796.7h6.4v3.2h-6.4zM372.3 796.7h6.4v3.2h-6.4zM401.1 796.7h6.4v3.2h-6.4zM413.9 796.7h3.2v3.2h-3.2zM426.7 796.7h3.2v3.2h-3.2zM433.1 796.7h51.2v3.2h-51.2zM490.7 796.7h3.2v3.2h-3.2zM500.3 796.7h3.2v3.2h-3.2zM314.7 793.5h3.2v3.2h-3.2zM324.3 793.5h3.2v3.2h-3.2zM337.1 793.5h3.2v3.2h-3.2zM356.3 793.5h6.4v3.2h-6.4zM365.9 793.5h3.2v3.2h-3.2zM375.5 793.5h3.2v3.2h-3.2zM381.9 793.5h3.2v3.2h-3.2zM388.3 793.5h3.2v3.2h-3.2zM394.7 793.5h9.6v3.2h-9.6zM407.5 793.5h9.6v3.2h-9.6zM420.3 793.5h64v3.2h-64zM487.5 793.5h3.2v3.2h-3.2zM253.9 790.3h3.2v3.2h-3.2zM289.1 790.3h3.2v3.2h-3.2zM311.5 790.3h3.2v3.2h-3.2zM327.5 790.3h3.2v3.2h-3.2zM337.1 790.3h3.2v3.2h-3.2zM365.9 790.3h3.2v3.2h-3.2zM381.9 790.3h3.2v3.2h-3.2zM394.7 790.3h96v3.2h-96zM276.3 787.1h3.2v3.2h-3.2zM282.7 787.1h3.2v3.2h-3.2zM292.3 787.1h3.2v3.2h-3.2zM333.9 787.1h3.2v3.2h-3.2zM359.5 787.1h9.6v3.2h-9.6zM381.9 787.1h3.2v3.2h-3.2zM388.3 787.1h3.2v3.2h-3.2zM394.7 787.1h6.4v3.2h-6.4zM404.3 787.1h6.4v3.2h-6.4zM413.9 787.1h76.8v3.2h-76.8zM503.5 787.1h3.2v3.2h-3.2zM260.3 783.9h3.2v3.2h-3.2zM279.5 783.9h3.2v3.2h-3.2zM324.3 783.9h3.2v3.2h-3.2zM337.1 783.9h3.2v3.2h-3.2zM346.7 783.9h3.2v3.2h-3.2zM353.1 783.9h3.2v3.2h-3.2zM359.5 783.9h3.2v3.2h-3.2zM369.1 783.9h6.4v3.2h-6.4zM378.7 783.9h3.2v3.2h-3.2zM388.3 783.9h6.4v3.2h-6.4zM397.9 783.9h80v3.2h-80zM481.1 783.9h6.4v3.2h-6.4zM292.3 780.7h3.2v3.2h-3.2zM340.3 780.7h3.2v3.2h-3.2zM346.7 780.7h6.4v3.2h-6.4zM356.3 780.7h3.2v3.2h-3.2zM365.9 780.7h12.8v3.2h-12.8zM391.5 780.7h83.2v3.2h-83.2zM477.9 780.7h3.2v3.2h-3.2zM500.3 780.7h3.2v3.2h-3.2zM257.1 777.5h3.2v3.2h-3.2zM266.7 777.5h3.2v3.2h-3.2zM282.7 777.5h3.2v3.2h-3.2zM289.1 777.5h3.2v3.2h-3.2zM298.7 777.5h6.4v3.2h-6.4zM308.3 777.5h3.2v3.2h-3.2zM321.1 777.5h3.2v3.2h-3.2zM333.9 777.5h3.2v3.2h-3.2zM365.9 777.5h3.2v3.2h-3.2zM372.3 777.5h9.6v3.2h-9.6zM385.1 777.5h6.4v3.2h-6.4zM394.7 777.5h86.4v3.2h-86.4zM484.3 777.5h6.4v3.2h-6.4zM493.9 777.5h6.4v3.2h-6.4zM276.3 774.3h3.2v3.2h-3.2zM282.7 774.3h3.2v3.2h-3.2zM314.7 774.3h3.2v3.2h-3.2zM324.3 774.3h3.2v3.2h-3.2zM362.7 774.3h3.2v3.2h-3.2zM369.1 774.3h6.4v3.2h-6.4zM378.7 774.3h3.2v3.2h-3.2zM391.5 774.3h96v3.2h-96zM522.7 774.3h3.2v3.2h-3.2zM285.9 771.1h3.2v3.2h-3.2zM298.7 771.1h3.2v3.2h-3.2zM321.1 771.1h6.4v3.2h-6.4zM340.3 771.1h3.2v3.2h-3.2zM346.7 771.1h3.2v3.2h-3.2zM356.3 771.1h3.2v3.2h-3.2zM362.7 771.1h9.6v3.2h-9.6zM388.3 771.1h22.4v3.2h-22.4zM413.9 771.1h64v3.2h-64zM481.1 771.1h3.2v3.2h-3.2zM282.7 767.9h3.2v3.2h-3.2zM340.3 767.9h3.2v3.2h-3.2zM349.9 767.9h3.2v3.2h-3.2zM356.3 767.9h3.2v3.2h-3.2zM362.7 767.9h3.2v3.2h-3.2zM381.9 767.9h12.8v3.2h-12.8zM401.1 767.9h9.6v3.2h-9.6zM417.1 767.9h6.4v3.2h-6.4zM426.7 767.9h12.8v3.2h-12.8zM442.7 767.9h28.8v3.2h-28.8zM484.3 767.9h3.2v3.2h-3.2zM340.3 764.7h3.2v3.2h-3.2zM346.7 764.7h6.4v3.2h-6.4zM356.3 764.7h3.2v3.2h-3.2zM365.9 764.7h9.6v3.2h-9.6zM381.9 764.7h3.2v3.2h-3.2zM388.3 764.7h3.2v3.2h-3.2zM397.9 764.7h3.2v3.2h-3.2zM404.3 764.7h3.2v3.2h-3.2zM410.7 764.7h25.6v3.2h-25.6zM439.5 764.7h22.4v3.2h-22.4zM465.1 764.7h6.4v3.2h-6.4zM477.9 764.7h3.2v3.2h-3.2zM237.9 761.5h3.2v3.2h-3.2zM260.3 761.5h3.2v3.2h-3.2zM311.5 761.5h3.2v3.2h-3.2zM330.7 761.5h3.2v3.2h-3.2zM343.5 761.5h6.4v3.2h-6.4zM359.5 761.5h9.6v3.2h-9.6zM372.3 761.5h6.4v3.2h-6.4zM394.7 761.5h3.2v3.2h-3.2zM407.5 761.5h6.4v3.2h-6.4zM417.1 761.5h3.2v3.2h-3.2zM426.7 761.5h44.8v3.2h-44.8zM276.3 758.3h6.4v3.2h-6.4zM295.5 758.3h9.6v3.2h-9.6zM343.5 758.3h6.4v3.2h-6.4zM362.7 758.3h6.4v3.2h-6.4zM391.5 758.3h3.2v3.2h-3.2zM407.5 758.3h3.2v3.2h-3.2zM423.5 758.3h6.4v3.2h-6.4zM433.1 758.3h3.2v3.2h-3.2zM439.5 758.3h3.2v3.2h-3.2zM445.9 758.3h6.4v3.2h-6.4zM458.7 758.3h3.2v3.2h-3.2zM468.3 758.3h3.2v3.2h-3.2zM474.7 758.3h3.2v3.2h-3.2zM493.9 758.3h3.2v3.2h-3.2zM282.7 755.1h6.4v3.2h-6.4zM343.5 755.1h3.2v3.2h-3.2zM391.5 755.1h9.6v3.2h-9.6zM407.5 755.1h3.2v3.2h-3.2zM423.5 755.1h6.4v3.2h-6.4zM439.5 755.1h3.2v3.2h-3.2zM445.9 755.1h16v3.2h-16zM468.3 755.1h3.2v3.2h-3.2zM474.7 755.1h3.2v3.2h-3.2zM279.5 751.9h3.2v3.2h-3.2zM340.3 751.9h6.4v3.2h-6.4zM356.3 751.9h9.6v3.2h-9.6zM401.1 751.9h3.2v3.2h-3.2zM413.9 751.9h3.2v3.2h-3.2zM433.1 751.9h6.4v3.2h-6.4zM445.9 751.9h3.2v3.2h-3.2zM452.3 751.9h3.2v3.2h-3.2zM468.3 751.9h3.2v3.2h-3.2zM481.1 751.9h3.2v3.2h-3.2zM490.7 751.9h3.2v3.2h-3.2zM269.9 748.7h3.2v3.2h-3.2zM340.3 748.7h6.4v3.2h-6.4zM359.5 748.7h3.2v3.2h-3.2zM372.3 748.7h3.2v3.2h-3.2zM381.9 748.7h3.2v3.2h-3.2zM413.9 748.7h9.6v3.2h-9.6zM439.5 748.7h3.2v3.2h-3.2zM449.1 748.7h3.2v3.2h-3.2zM458.7 748.7h3.2v3.2h-3.2zM468.3 748.7h3.2v3.2h-3.2zM474.7 748.7h3.2v3.2h-3.2zM493.9 748.7h3.2v3.2h-3.2zM340.3 745.5h3.2v3.2h-3.2zM356.3 745.5h3.2v3.2h-3.2zM413.9 745.5h3.2v3.2h-3.2zM436.3 745.5h3.2v3.2h-3.2zM458.7 745.5h6.4v3.2h-6.4zM311.5 742.3h3.2v3.2h-3.2zM375.5 742.3h3.2v3.2h-3.2zM388.3 742.3h3.2v3.2h-3.2zM394.7 742.3h3.2v3.2h-3.2zM439.5 742.3h9.6v3.2h-9.6zM461.9 742.3h3.2v3.2h-3.2zM474.7 742.3h3.2v3.2h-3.2zM276.3 739.1h3.2v3.2h-3.2zM388.3 739.1h3.2v3.2h-3.2zM407.5 739.1h3.2v3.2h-3.2zM449.1 739.1h3.2v3.2h-3.2zM458.7 739.1h3.2v3.2h-3.2zM465.1 739.1h3.2v3.2h-3.2zM477.9 739.1h3.2v3.2h-3.2zM327.5 735.9h3.2v3.2h-3.2zM353.1 735.9h3.2v3.2h-3.2zM442.7 735.9h3.2v3.2h-3.2zM465.1 735.9h6.4v3.2h-6.4zM340.3 732.7h3.2v3.2h-3.2zM423.5 732.7h3.2v3.2h-3.2zM439.5 732.7h3.2v3.2h-3.2zM247.5 729.5h3.2v3.2h-3.2zM301.9 729.5h3.2v3.2h-3.2zM391.5 729.5h3.2v3.2h-3.2zM417.1 729.5h3.2v3.2h-3.2zM423.5 729.5h3.2v3.2h-3.2zM465.1 729.5h3.2v3.2h-3.2zM477.9 726.3h3.2v3.2h-3.2zM330.7 723.1h3.2v3.2h-3.2zM442.7 723.1h3.2v3.2h-3.2zM465.1 723.1h3.2v3.2h-3.2zM500.3 723.1h3.2v3.2h-3.2zM324.3 719.9h3.2v3.2h-3.2zM282.7 716.7h3.2v3.2h-3.2zM433.1 716.7h3.2v3.2h-3.2zM327.5 713.5h3.2v3.2h-3.2zM484.3 713.5h3.2v3.2h-3.2zM436.3 710.3h3.2v3.2h-3.2zM303.5 1027.2H363V1030.3H303.5z" fill="#707070" shape-rendering="crispEdges"/>
<rect x="236.35" y="662.95" width="374.1" height="368.9" fill="none" stroke="#000" stroke-width="3.1"/>
<path d="M390.2 661.4V1033.4M234.8 868.2H612" stroke="#000" stroke-width="3" fill="none"/>
<path d="M221.9 981.71H235.8V988.07H221.9zM279.68 1032.4H286.24V1049.3H279.68zM221.9 889.71H235.8V896.07H221.9zM372.73 1032.4H379.29V1049.3H372.73zM221.9 797.71H235.8V804.07H221.9zM465.78 1032.4H472.34V1049.3H465.78zM221.9 705.71H235.8V712.07H221.9zM558.83 1032.4H565.39V1049.3H558.83z" fill="#000"/>
<path d="M221.9 1025.9H235.8M221.9 1014.41H235.8M221.9 1005.49H235.8M221.9 998.21H235.8M221.9 992.05H235.8M221.9 986.72H235.8M221.9 982.01H235.8M221.9 950.11H235.8M221.9 933.9H235.8M221.9 922.41H235.8M221.9 913.49H235.8M221.9 906.21H235.8M221.9 900.05H235.8M221.9 894.72H235.8M221.9 890.01H235.8M221.9 858.11H235.8M221.9 841.9H235.8M221.9 830.41H235.8M221.9 821.49H235.8M221.9 814.21H235.8M221.9 808.05H235.8M221.9 802.72H235.8M221.9 798.01H235.8M221.9 766.11H235.8M221.9 749.9H235.8M221.9 738.41H235.8M221.9 729.49H235.8M221.9 722.21H235.8M221.9 716.05H235.8M221.9 710.72H235.8M221.9 706.01H235.8M221.9 676H235.8" stroke="#000" stroke-width="2.7" fill="none"/>
<path d="M209 977.8H235.8M209 885.8H235.8M209 793.8H235.8M209 701.8H235.8" stroke="#000" stroke-width="3.2" fill="none"/>
<path d="M241.55 1032.4V1049.3M253.17 1032.4V1049.3M262.19 1032.4V1049.3M269.56 1032.4V1049.3M275.79 1032.4V1049.3M281.18 1032.4V1049.3M285.94 1032.4V1049.3M290.2 1032.4V1061M318.21 1032.4V1049.3M334.6 1032.4V1049.3M346.22 1032.4V1049.3M355.24 1032.4V1049.3M362.61 1032.4V1049.3M368.84 1032.4V1049.3M374.23 1032.4V1049.3M378.99 1032.4V1049.3M383.25 1032.4V1061M411.26 1032.4V1049.3M427.65 1032.4V1049.3M439.27 1032.4V1049.3M448.29 1032.4V1049.3M455.66 1032.4V1049.3M461.89 1032.4V1049.3M467.28 1032.4V1049.3M472.04 1032.4V1049.3M476.3 1032.4V1061M504.31 1032.4V1049.3M520.7 1032.4V1049.3M532.32 1032.4V1049.3M541.34 1032.4V1049.3M548.71 1032.4V1049.3M554.94 1032.4V1049.3M560.33 1032.4V1049.3M565.09 1032.4V1049.3M569.35 1032.4V1061M597.36 1032.4V1049.3" stroke="#000" stroke-width="3" fill="none"/>
<text class="a" font-size="29.5" font-weight="700" transform="translate(205.8,996.4) rotate(-90) scale(.9,1)">10</text>
<text class="a" font-size="31" font-weight="700" transform="translate(187,966.8) rotate(-90) scale(.8,1)">2</text>
<text class="a" font-size="34" font-weight="700" transform="translate(266.8,1094.8) scale(.745,1)">10</text>
<text class="a" font-size="34" font-weight="700" clip-path="url(#supclip)" transform="translate(296.6,1075) scale(.745,1)">2</text>
<text class="a" font-size="29.5" font-weight="700" transform="translate(205.8,904.4) rotate(-90) scale(.9,1)">10</text>
<text class="a" font-size="31" font-weight="700" transform="translate(187,874.8) rotate(-90) scale(.8,1)">3</text>
<text class="a" font-size="34" font-weight="700" transform="translate(359.85,1094.8) scale(.745,1)">10</text>
<text class="a" font-size="34" font-weight="700" clip-path="url(#supclip)" transform="translate(389.65,1075) scale(.745,1)">3</text>
<text class="a" font-size="29.5" font-weight="700" transform="translate(205.8,812.4) rotate(-90) scale(.9,1)">10</text>
<text class="a" font-size="31" font-weight="700" transform="translate(187,782.8) rotate(-90) scale(.8,1)">4</text>
<text class="a" font-size="34" font-weight="700" transform="translate(452.9,1094.8) scale(.745,1)">10</text>
<text class="a" font-size="34" font-weight="700" clip-path="url(#supclip4)" transform="translate(482.7,1072) scale(.745,1)">4</text>
<text class="a" font-size="29.5" font-weight="700" transform="translate(205.8,720.4) rotate(-90) scale(.9,1)">10</text>
<text class="a" font-size="31" font-weight="700" transform="translate(187,690.8) rotate(-90) scale(.8,1)">5</text>
<text class="a" font-size="34" font-weight="700" transform="translate(545.95,1094.8) scale(.745,1)">10</text>
<text class="a" font-size="34" font-weight="700" clip-path="url(#supclip)" transform="translate(575.75,1075) scale(.745,1)">5</text>
<text x="347.6" y="637.3" font-size="43" font-weight="700" textLength="105.6" lengthAdjust="spacing">Blank</text>
<text transform="translate(153.3,853.6) rotate(-90)" font-size="41.5" font-weight="700" textLength="39.4" lengthAdjust="spacing">PI</text>
<text x="595.6" y="856.5" font-size="43" text-anchor="end" stroke="#0a0a0a" stroke-width="1.3">29.1</text>
<text x="601.3" y="1022.1" font-size="43" text-anchor="end" stroke="#0a0a0a" stroke-width="1.3">12.4</text>
<text x="248.6" y="1135.6" font-size="42" font-weight="700" textLength="308.5" lengthAdjust="spacing">Annexin V FITC</text>
</g>
<g>
<path d="M813.9 1028.4h3.2v3.2h-3.2zM861.9 1028.4h3.2v3.2h-3.2zM935.5 1028.4h3.2v3.2h-3.2zM941.9 1028.4h3.2v3.2h-3.2zM833.1 1025.2h3.2v3.2h-3.2zM842.7 1025.2h3.2v3.2h-3.2zM874.7 1025.2h3.2v3.2h-3.2zM890.7 1025.2h3.2v3.2h-3.2zM900.3 1025.2h3.2v3.2h-3.2zM906.7 1025.2h3.2v3.2h-3.2zM913.1 1025.2h3.2v3.2h-3.2zM945.1 1025.2h3.2v3.2h-3.2zM826.7 1022h3.2v3.2h-3.2zM839.5 1022h3.2v3.2h-3.2zM849.1 1022h6.4v3.2h-6.4zM861.9 1022h3.2v3.2h-3.2zM874.7 1022h3.2v3.2h-3.2zM897.1 1022h3.2v3.2h-3.2zM916.3 1022h6.4v3.2h-6.4zM945.1 1022h3.2v3.2h-3.2zM829.9 1018.8h3.2v3.2h-3.2zM839.5 1018.8h3.2v3.2h-3.2zM861.9 1018.8h3.2v3.2h-3.2zM877.9 1018.8h3.2v3.2h-3.2zM900.3 1018.8h3.2v3.2h-3.2zM909.9 1018.8h3.2v3.2h-3.2zM929.1 1018.8h3.2v3.2h-3.2zM993.1 1018.8h3.2v3.2h-3.2zM817.1 1015.6h3.2v3.2h-3.2zM823.5 1015.6h3.2v3.2h-3.2zM842.7 1015.6h3.2v3.2h-3.2zM861.9 1015.6h3.2v3.2h-3.2zM874.7 1015.6h3.2v3.2h-3.2zM884.3 1015.6h6.4v3.2h-6.4zM906.7 1015.6h3.2v3.2h-3.2zM932.3 1015.6h3.2v3.2h-3.2zM948.3 1015.6h3.2v3.2h-3.2zM855.5 1012.4h3.2v3.2h-3.2zM871.5 1012.4h3.2v3.2h-3.2zM887.5 1012.4h3.2v3.2h-3.2zM909.9 1012.4h3.2v3.2h-3.2zM925.9 1012.4h3.2v3.2h-3.2zM945.1 1012.4h3.2v3.2h-3.2zM973.9 1012.4h3.2v3.2h-3.2zM810.7 1009.2h6.4v3.2h-6.4zM871.5 1009.2h3.2v3.2h-3.2zM881.1 1009.2h3.2v3.2h-3.2zM897.1 1009.2h3.2v3.2h-3.2zM1066.7 1009.2h3.2v3.2h-3.2zM807.5 1006h3.2v3.2h-3.2zM833.1 1006h9.6v3.2h-9.6zM855.5 1006h3.2v3.2h-3.2zM877.9 1006h3.2v3.2h-3.2zM884.3 1006h3.2v3.2h-3.2zM890.7 1006h3.2v3.2h-3.2zM900.3 1006h6.4v3.2h-6.4zM913.1 1006h9.6v3.2h-9.6zM817.1 1002.8h3.2v3.2h-3.2zM823.5 1002.8h3.2v3.2h-3.2zM833.1 1002.8h3.2v3.2h-3.2zM855.5 1002.8h3.2v3.2h-3.2zM861.9 1002.8h3.2v3.2h-3.2zM884.3 1002.8h3.2v3.2h-3.2zM893.9 1002.8h6.4v3.2h-6.4zM909.9 1002.8h3.2v3.2h-3.2zM919.5 1002.8h3.2v3.2h-3.2zM954.7 1002.8h3.2v3.2h-3.2zM970.7 1002.8h3.2v3.2h-3.2zM989.9 1002.8h3.2v3.2h-3.2zM810.7 999.6h3.2v3.2h-3.2zM829.9 999.6h3.2v3.2h-3.2zM836.3 999.6h3.2v3.2h-3.2zM861.9 999.6h3.2v3.2h-3.2zM871.5 999.6h9.6v3.2h-9.6zM884.3 999.6h9.6v3.2h-9.6zM906.7 999.6h3.2v3.2h-3.2zM929.1 999.6h6.4v3.2h-6.4zM938.7 999.6h3.2v3.2h-3.2zM945.1 999.6h6.4v3.2h-6.4zM1009.1 999.6h3.2v3.2h-3.2zM1082.7 999.6h3.2v3.2h-3.2zM810.7 996.4h3.2v3.2h-3.2zM829.9 996.4h6.4v3.2h-6.4zM839.5 996.4h6.4v3.2h-6.4zM855.5 996.4h3.2v3.2h-3.2zM865.1 996.4h3.2v3.2h-3.2zM871.5 996.4h6.4v3.2h-6.4zM884.3 996.4h3.2v3.2h-3.2zM893.9 996.4h3.2v3.2h-3.2zM900.3 996.4h16v3.2h-16zM929.1 996.4h6.4v3.2h-6.4zM1066.7 996.4h3.2v3.2h-3.2zM820.3 993.2h3.2v3.2h-3.2zM829.9 993.2h3.2v3.2h-3.2zM836.3 993.2h6.4v3.2h-6.4zM845.9 993.2h6.4v3.2h-6.4zM858.7 993.2h16v3.2h-16zM884.3 993.2h3.2v3.2h-3.2zM893.9 993.2h3.2v3.2h-3.2zM900.3 993.2h3.2v3.2h-3.2zM938.7 993.2h3.2v3.2h-3.2zM945.1 993.2h3.2v3.2h-3.2zM989.9 993.2h3.2v3.2h-3.2zM807.5 990h6.4v3.2h-6.4zM826.7 990h3.2v3.2h-3.2zM836.3 990h6.4v3.2h-6.4zM845.9 990h3.2v3.2h-3.2zM855.5 990h6.4v3.2h-6.4zM865.1 990h6.4v3.2h-6.4zM874.7 990h9.6v3.2h-9.6zM887.5 990h3.2v3.2h-3.2zM893.9 990h3.2v3.2h-3.2zM900.3 990h3.2v3.2h-3.2zM906.7 990h3.2v3.2h-3.2zM913.1 990h3.2v3.2h-3.2zM925.9 990h3.2v3.2h-3.2zM935.5 990h3.2v3.2h-3.2zM964.3 990h3.2v3.2h-3.2zM986.7 990h3.2v3.2h-3.2zM1037.9 990h3.2v3.2h-3.2zM807.5 986.8h3.2v3.2h-3.2zM823.5 986.8h6.4v3.2h-6.4zM852.3 986.8h12.8v3.2h-12.8zM868.3 986.8h3.2v3.2h-3.2zM874.7 986.8h12.8v3.2h-12.8zM890.7 986.8h6.4v3.2h-6.4zM900.3 986.8h12.8v3.2h-12.8zM919.5 986.8h3.2v3.2h-3.2zM929.1 986.8h3.2v3.2h-3.2zM961.1 986.8h6.4v3.2h-6.4zM983.5 986.8h3.2v3.2h-3.2zM1041.1 986.8h3.2v3.2h-3.2zM807.5 983.6h3.2v3.2h-3.2zM813.9 983.6h3.2v3.2h-3.2zM823.5 983.6h6.4v3.2h-6.4zM836.3 983.6h9.6v3.2h-9.6zM852.3 983.6h3.2v3.2h-3.2zM858.7 983.6h3.2v3.2h-3.2zM865.1 983.6h9.6v3.2h-9.6zM877.9 983.6h16v3.2h-16zM897.1 983.6h3.2v3.2h-3.2zM906.7 983.6h3.2v3.2h-3.2zM916.3 983.6h3.2v3.2h-3.2zM932.3 983.6h3.2v3.2h-3.2zM938.7 983.6h3.2v3.2h-3.2zM945.1 983.6h3.2v3.2h-3.2zM807.5 980.4h3.2v3.2h-3.2zM823.5 980.4h3.2v3.2h-3.2zM829.9 980.4h19.2v3.2h-19.2zM852.3 980.4h6.4v3.2h-6.4zM865.1 980.4h3.2v3.2h-3.2zM871.5 980.4h6.4v3.2h-6.4zM884.3 980.4h3.2v3.2h-3.2zM890.7 980.4h6.4v3.2h-6.4zM903.5 980.4h3.2v3.2h-3.2zM922.7 980.4h6.4v3.2h-6.4zM932.3 980.4h6.4v3.2h-6.4zM941.9 980.4h6.4v3.2h-6.4zM980.3 980.4h3.2v3.2h-3.2zM986.7 980.4h3.2v3.2h-3.2zM1121.1 980.4h3.2v3.2h-3.2zM810.7 977.2h3.2v3.2h-3.2zM820.3 977.2h3.2v3.2h-3.2zM829.9 977.2h25.6v3.2h-25.6zM861.9 977.2h16v3.2h-16zM881.1 977.2h6.4v3.2h-6.4zM890.7 977.2h12.8v3.2h-12.8zM906.7 977.2h3.2v3.2h-3.2zM913.1 977.2h3.2v3.2h-3.2zM919.5 977.2h3.2v3.2h-3.2zM929.1 977.2h16v3.2h-16zM957.9 977.2h3.2v3.2h-3.2zM977.1 977.2h3.2v3.2h-3.2zM810.7 974h6.4v3.2h-6.4zM826.7 974h3.2v3.2h-3.2zM833.1 974h6.4v3.2h-6.4zM842.7 974h9.6v3.2h-9.6zM855.5 974h3.2v3.2h-3.2zM861.9 974h28.8v3.2h-28.8zM897.1 974h3.2v3.2h-3.2zM903.5 974h16v3.2h-16zM922.7 974h9.6v3.2h-9.6zM948.3 974h3.2v3.2h-3.2zM957.9 974h6.4v3.2h-6.4zM970.7 974h3.2v3.2h-3.2zM1005.9 974h3.2v3.2h-3.2zM807.5 970.8h6.4v3.2h-6.4zM817.1 970.8h6.4v3.2h-6.4zM829.9 970.8h6.4v3.2h-6.4zM839.5 970.8h3.2v3.2h-3.2zM849.1 970.8h51.2v3.2h-51.2zM903.5 970.8h3.2v3.2h-3.2zM909.9 970.8h25.6v3.2h-25.6zM938.7 970.8h9.6v3.2h-9.6zM951.5 970.8h3.2v3.2h-3.2zM961.1 970.8h3.2v3.2h-3.2zM983.5 970.8h3.2v3.2h-3.2zM807.5 967.6h3.2v3.2h-3.2zM820.3 967.6h9.6v3.2h-9.6zM833.1 967.6h16v3.2h-16zM852.3 967.6h3.2v3.2h-3.2zM858.7 967.6h19.2v3.2h-19.2zM881.1 967.6h22.4v3.2h-22.4zM906.7 967.6h3.2v3.2h-3.2zM913.1 967.6h6.4v3.2h-6.4zM922.7 967.6h3.2v3.2h-3.2zM932.3 967.6h3.2v3.2h-3.2zM938.7 967.6h3.2v3.2h-3.2zM945.1 967.6h16v3.2h-16zM989.9 967.6h3.2v3.2h-3.2zM1034.7 967.6h3.2v3.2h-3.2zM807.5 964.4h3.2v3.2h-3.2zM826.7 964.4h35.2v3.2h-35.2zM865.1 964.4h57.6v3.2h-57.6zM925.9 964.4h3.2v3.2h-3.2zM932.3 964.4h9.6v3.2h-9.6zM957.9 964.4h6.4v3.2h-6.4zM970.7 964.4h3.2v3.2h-3.2zM983.5 964.4h3.2v3.2h-3.2zM1005.9 964.4h3.2v3.2h-3.2zM810.7 961.2h12.8v3.2h-12.8zM826.7 961.2h3.2v3.2h-3.2zM833.1 961.2h3.2v3.2h-3.2zM845.9 961.2h22.4v3.2h-22.4zM871.5 961.2h41.6v3.2h-41.6zM916.3 961.2h16v3.2h-16zM935.5 961.2h3.2v3.2h-3.2zM941.9 961.2h3.2v3.2h-3.2zM951.5 961.2h3.2v3.2h-3.2zM957.9 961.2h6.4v3.2h-6.4zM977.1 961.2h3.2v3.2h-3.2zM1079.5 961.2h3.2v3.2h-3.2zM826.7 958h3.2v3.2h-3.2zM833.1 958h19.2v3.2h-19.2zM855.5 958h44.8v3.2h-44.8zM903.5 958h28.8v3.2h-28.8zM935.5 958h6.4v3.2h-6.4zM951.5 958h6.4v3.2h-6.4zM961.1 958h3.2v3.2h-3.2zM967.5 958h3.2v3.2h-3.2zM980.3 958h3.2v3.2h-3.2zM1015.5 958h3.2v3.2h-3.2zM813.9 954.8h16v3.2h-16zM839.5 954.8h92.8v3.2h-92.8zM935.5 954.8h12.8v3.2h-12.8zM951.5 954.8h3.2v3.2h-3.2zM957.9 954.8h16v3.2h-16zM977.1 954.8h6.4v3.2h-6.4zM996.3 954.8h3.2v3.2h-3.2zM1044.3 954.8h3.2v3.2h-3.2zM813.9 951.6h6.4v3.2h-6.4zM823.5 951.6h102.4v3.2h-102.4zM929.1 951.6h6.4v3.2h-6.4zM938.7 951.6h19.2v3.2h-19.2zM973.9 951.6h6.4v3.2h-6.4zM996.3 951.6h3.2v3.2h-3.2zM1047.5 951.6h3.2v3.2h-3.2zM810.7 948.4h3.2v3.2h-3.2zM820.3 948.4h6.4v3.2h-6.4zM829.9 948.4h121.6v3.2h-121.6zM954.7 948.4h32v3.2h-32zM1034.7 948.4h3.2v3.2h-3.2zM826.7 945.2h6.4v3.2h-6.4zM836.3 945.2h54.4v3.2h-54.4zM893.9 945.2h25.6v3.2h-25.6zM922.7 945.2h3.2v3.2h-3.2zM935.5 945.2h9.6v3.2h-9.6zM948.3 945.2h3.2v3.2h-3.2zM954.7 945.2h3.2v3.2h-3.2zM961.1 945.2h6.4v3.2h-6.4zM1005.9 945.2h3.2v3.2h-3.2zM1034.7 945.2h3.2v3.2h-3.2zM1076.3 945.2h3.2v3.2h-3.2zM810.7 942h9.6v3.2h-9.6zM826.7 942h3.2v3.2h-3.2zM833.1 942h9.6v3.2h-9.6zM845.9 942h89.6v3.2h-89.6zM938.7 942h6.4v3.2h-6.4zM951.5 942h6.4v3.2h-6.4zM964.3 942h3.2v3.2h-3.2zM970.7 942h3.2v3.2h-3.2zM996.3 942h6.4v3.2h-6.4zM1021.9 942h6.4v3.2h-6.4zM1044.3 942h3.2v3.2h-3.2zM1069.9 942h3.2v3.2h-3.2zM813.9 938.8h9.6v3.2h-9.6zM826.7 938.8h9.6v3.2h-9.6zM839.5 938.8h19.2v3.2h-19.2zM861.9 938.8h96v3.2h-96zM961.1 938.8h19.2v3.2h-19.2zM983.5 938.8h6.4v3.2h-6.4zM1002.7 938.8h3.2v3.2h-3.2zM1009.1 938.8h3.2v3.2h-3.2zM1015.5 938.8h6.4v3.2h-6.4zM1044.3 938.8h3.2v3.2h-3.2zM817.1 935.6h3.2v3.2h-3.2zM823.5 935.6h3.2v3.2h-3.2zM836.3 935.6h28.8v3.2h-28.8zM868.3 935.6h3.2v3.2h-3.2zM874.7 935.6h28.8v3.2h-28.8zM906.7 935.6h38.4v3.2h-38.4zM948.3 935.6h6.4v3.2h-6.4zM957.9 935.6h6.4v3.2h-6.4zM970.7 935.6h3.2v3.2h-3.2zM989.9 935.6h3.2v3.2h-3.2zM1015.5 935.6h3.2v3.2h-3.2zM1034.7 935.6h3.2v3.2h-3.2zM1057.1 935.6h3.2v3.2h-3.2zM813.9 932.4h9.6v3.2h-9.6zM826.7 932.4h6.4v3.2h-6.4zM836.3 932.4h92.8v3.2h-92.8zM932.3 932.4h38.4v3.2h-38.4zM977.1 932.4h3.2v3.2h-3.2zM983.5 932.4h3.2v3.2h-3.2zM1009.1 932.4h3.2v3.2h-3.2zM1041.1 932.4h3.2v3.2h-3.2zM807.5 929.2h3.2v3.2h-3.2zM817.1 929.2h3.2v3.2h-3.2zM823.5 929.2h6.4v3.2h-6.4zM836.3 929.2h6.4v3.2h-6.4zM845.9 929.2h115.2v3.2h-115.2zM964.3 929.2h9.6v3.2h-9.6zM1015.5 929.2h3.2v3.2h-3.2zM817.1 926h3.2v3.2h-3.2zM833.1 926h3.2v3.2h-3.2zM839.5 926h41.6v3.2h-41.6zM884.3 926h51.2v3.2h-51.2zM938.7 926h12.8v3.2h-12.8zM954.7 926h9.6v3.2h-9.6zM967.5 926h16v3.2h-16zM1005.9 926h3.2v3.2h-3.2zM1082.7 926h3.2v3.2h-3.2zM813.9 922.8h9.6v3.2h-9.6zM836.3 922.8h3.2v3.2h-3.2zM845.9 922.8h6.4v3.2h-6.4zM855.5 922.8h19.2v3.2h-19.2zM877.9 922.8h83.2v3.2h-83.2zM964.3 922.8h16v3.2h-16zM993.1 922.8h3.2v3.2h-3.2zM1060.3 922.8h3.2v3.2h-3.2zM1079.5 922.8h3.2v3.2h-3.2zM820.3 919.6h3.2v3.2h-3.2zM826.7 919.6h3.2v3.2h-3.2zM836.3 919.6h3.2v3.2h-3.2zM842.7 919.6h3.2v3.2h-3.2zM852.3 919.6h19.2v3.2h-19.2zM874.7 919.6h16v3.2h-16zM893.9 919.6h12.8v3.2h-12.8zM909.9 919.6h9.6v3.2h-9.6zM922.7 919.6h25.6v3.2h-25.6zM951.5 919.6h6.4v3.2h-6.4zM961.1 919.6h9.6v3.2h-9.6zM973.9 919.6h6.4v3.2h-6.4zM989.9 919.6h3.2v3.2h-3.2zM1021.9 919.6h3.2v3.2h-3.2zM1063.5 919.6h3.2v3.2h-3.2zM1076.3 919.6h3.2v3.2h-3.2zM807.5 916.4h3.2v3.2h-3.2zM813.9 916.4h3.2v3.2h-3.2zM820.3 916.4h3.2v3.2h-3.2zM836.3 916.4h16v3.2h-16zM855.5 916.4h6.4v3.2h-6.4zM865.1 916.4h19.2v3.2h-19.2zM887.5 916.4h3.2v3.2h-3.2zM897.1 916.4h3.2v3.2h-3.2zM903.5 916.4h3.2v3.2h-3.2zM916.3 916.4h19.2v3.2h-19.2zM938.7 916.4h22.4v3.2h-22.4zM964.3 916.4h16v3.2h-16zM983.5 916.4h3.2v3.2h-3.2zM999.5 916.4h3.2v3.2h-3.2zM1047.5 916.4h3.2v3.2h-3.2zM1156.3 916.4h3.2v3.2h-3.2zM826.7 913.2h3.2v3.2h-3.2zM836.3 913.2h3.2v3.2h-3.2zM842.7 913.2h3.2v3.2h-3.2zM852.3 913.2h3.2v3.2h-3.2zM865.1 913.2h3.2v3.2h-3.2zM871.5 913.2h19.2v3.2h-19.2zM893.9 913.2h6.4v3.2h-6.4zM903.5 913.2h48v3.2h-48zM954.7 913.2h12.8v3.2h-12.8zM970.7 913.2h3.2v3.2h-3.2zM986.7 913.2h3.2v3.2h-3.2zM1002.7 913.2h3.2v3.2h-3.2zM1021.9 913.2h3.2v3.2h-3.2zM1095.5 913.2h3.2v3.2h-3.2zM820.3 910h3.2v3.2h-3.2zM826.7 910h3.2v3.2h-3.2zM852.3 910h6.4v3.2h-6.4zM865.1 910h9.6v3.2h-9.6zM877.9 910h3.2v3.2h-3.2zM884.3 910h3.2v3.2h-3.2zM890.7 910h3.2v3.2h-3.2zM897.1 910h12.8v3.2h-12.8zM913.1 910h12.8v3.2h-12.8zM929.1 910h16v3.2h-16zM948.3 910h12.8v3.2h-12.8zM964.3 910h3.2v3.2h-3.2zM970.7 910h6.4v3.2h-6.4zM1009.1 910h6.4v3.2h-6.4zM1050.7 910h3.2v3.2h-3.2zM1076.3 910h3.2v3.2h-3.2zM826.7 906.8h3.2v3.2h-3.2zM865.1 906.8h6.4v3.2h-6.4zM874.7 906.8h3.2v3.2h-3.2zM913.1 906.8h28.8v3.2h-28.8zM945.1 906.8h6.4v3.2h-6.4zM954.7 906.8h6.4v3.2h-6.4zM964.3 906.8h3.2v3.2h-3.2zM973.9 906.8h3.2v3.2h-3.2zM1009.1 906.8h3.2v3.2h-3.2zM1037.9 906.8h3.2v3.2h-3.2zM1044.3 906.8h3.2v3.2h-3.2zM826.7 903.6h3.2v3.2h-3.2zM845.9 903.6h6.4v3.2h-6.4zM868.3 903.6h3.2v3.2h-3.2zM881.1 903.6h12.8v3.2h-12.8zM897.1 903.6h3.2v3.2h-3.2zM916.3 903.6h3.2v3.2h-3.2zM922.7 903.6h9.6v3.2h-9.6zM935.5 903.6h6.4v3.2h-6.4zM945.1 903.6h19.2v3.2h-19.2zM970.7 903.6h6.4v3.2h-6.4zM986.7 903.6h3.2v3.2h-3.2zM1002.7 903.6h3.2v3.2h-3.2zM1012.3 903.6h6.4v3.2h-6.4zM1031.5 903.6h3.2v3.2h-3.2zM1105.1 903.6h3.2v3.2h-3.2zM810.7 900.4h3.2v3.2h-3.2zM849.1 900.4h3.2v3.2h-3.2zM865.1 900.4h3.2v3.2h-3.2zM871.5 900.4h6.4v3.2h-6.4zM890.7 900.4h3.2v3.2h-3.2zM909.9 900.4h3.2v3.2h-3.2zM916.3 900.4h22.4v3.2h-22.4zM945.1 900.4h16v3.2h-16zM967.5 900.4h3.2v3.2h-3.2zM973.9 900.4h3.2v3.2h-3.2zM996.3 900.4h3.2v3.2h-3.2zM1005.9 900.4h3.2v3.2h-3.2zM1028.3 900.4h6.4v3.2h-6.4zM1053.9 900.4h3.2v3.2h-3.2zM810.7 897.2h3.2v3.2h-3.2zM826.7 897.2h3.2v3.2h-3.2zM849.1 897.2h3.2v3.2h-3.2zM855.5 897.2h3.2v3.2h-3.2zM884.3 897.2h3.2v3.2h-3.2zM906.7 897.2h6.4v3.2h-6.4zM916.3 897.2h3.2v3.2h-3.2zM922.7 897.2h3.2v3.2h-3.2zM929.1 897.2h12.8v3.2h-12.8zM957.9 897.2h3.2v3.2h-3.2zM964.3 897.2h3.2v3.2h-3.2zM970.7 897.2h3.2v3.2h-3.2zM993.1 897.2h3.2v3.2h-3.2zM1005.9 897.2h3.2v3.2h-3.2zM1037.9 897.2h3.2v3.2h-3.2zM1082.7 897.2h3.2v3.2h-3.2zM833.1 894h3.2v3.2h-3.2zM842.7 894h3.2v3.2h-3.2zM868.3 894h3.2v3.2h-3.2zM906.7 894h3.2v3.2h-3.2zM916.3 894h3.2v3.2h-3.2zM922.7 894h6.4v3.2h-6.4zM941.9 894h9.6v3.2h-9.6zM961.1 894h3.2v3.2h-3.2zM973.9 894h6.4v3.2h-6.4zM1002.7 894h6.4v3.2h-6.4zM1031.5 894h3.2v3.2h-3.2zM1050.7 894h3.2v3.2h-3.2zM1057.1 894h3.2v3.2h-3.2zM839.5 890.8h3.2v3.2h-3.2zM871.5 890.8h3.2v3.2h-3.2zM909.9 890.8h3.2v3.2h-3.2zM932.3 890.8h3.2v3.2h-3.2zM938.7 890.8h3.2v3.2h-3.2zM945.1 890.8h6.4v3.2h-6.4zM964.3 890.8h3.2v3.2h-3.2zM1009.1 890.8h3.2v3.2h-3.2zM1021.9 890.8h3.2v3.2h-3.2zM1069.9 890.8h6.4v3.2h-6.4zM1089.1 890.8h3.2v3.2h-3.2zM1095.5 890.8h3.2v3.2h-3.2zM868.3 887.6h3.2v3.2h-3.2zM913.1 887.6h3.2v3.2h-3.2zM935.5 887.6h3.2v3.2h-3.2zM961.1 887.6h9.6v3.2h-9.6zM1034.7 887.6h3.2v3.2h-3.2zM1041.1 887.6h3.2v3.2h-3.2zM1050.7 887.6h6.4v3.2h-6.4zM1060.3 887.6h6.4v3.2h-6.4zM1069.9 887.6h3.2v3.2h-3.2zM829.9 884.4h3.2v3.2h-3.2zM945.1 884.4h3.2v3.2h-3.2zM977.1 884.4h3.2v3.2h-3.2zM1018.7 884.4h3.2v3.2h-3.2zM1031.5 884.4h3.2v3.2h-3.2zM1041.1 884.4h3.2v3.2h-3.2zM1047.5 884.4h16v3.2h-16zM1066.7 884.4h6.4v3.2h-6.4zM871.5 881.2h3.2v3.2h-3.2zM919.5 881.2h9.6v3.2h-9.6zM980.3 881.2h3.2v3.2h-3.2zM1060.3 881.2h6.4v3.2h-6.4zM1073.1 881.2h6.4v3.2h-6.4zM919.5 878h3.2v3.2h-3.2zM929.1 878h3.2v3.2h-3.2zM941.9 878h3.2v3.2h-3.2zM951.5 878h3.2v3.2h-3.2zM993.1 878h6.4v3.2h-6.4zM1002.7 878h3.2v3.2h-3.2zM1034.7 878h9.6v3.2h-9.6zM1047.5 878h9.6v3.2h-9.6zM1063.5 878h3.2v3.2h-3.2zM906.7 874.8h3.2v3.2h-3.2zM935.5 874.8h3.2v3.2h-3.2zM977.1 874.8h3.2v3.2h-3.2zM1047.5 874.8h3.2v3.2h-3.2zM1057.1 874.8h3.2v3.2h-3.2zM1066.7 874.8h6.4v3.2h-6.4zM881.1 871.6h3.2v3.2h-3.2zM945.1 871.6h3.2v3.2h-3.2zM964.3 871.6h3.2v3.2h-3.2zM1012.3 871.6h3.2v3.2h-3.2zM1050.7 871.6h3.2v3.2h-3.2zM1057.1 871.6h3.2v3.2h-3.2zM1069.9 871.6h3.2v3.2h-3.2zM871.5 868.4h3.2v3.2h-3.2zM932.3 868.4h3.2v3.2h-3.2zM977.1 868.4h3.2v3.2h-3.2zM1031.5 868.4h6.4v3.2h-6.4zM1076.3 868.4h3.2v3.2h-3.2zM881.1 865.2h6.4v3.2h-6.4zM935.5 865.2h6.4v3.2h-6.4zM945.1 865.2h3.2v3.2h-3.2zM1063.5 865.2h3.2v3.2h-3.2zM1066.7 862h6.4v3.2h-6.4zM935.5 858.8h3.2v3.2h-3.2zM941.9 858.8h3.2v3.2h-3.2zM996.3 858.8h3.2v3.2h-3.2zM1009.1 858.8h3.2v3.2h-3.2zM970.7 852.4h3.2v3.2h-3.2zM1002.7 852.4h3.2v3.2h-3.2zM1012.3 852.4h3.2v3.2h-3.2zM1021.9 852.4h3.2v3.2h-3.2zM951.5 849.2h3.2v3.2h-3.2zM1050.7 849.2h3.2v3.2h-3.2zM906.7 846h3.2v3.2h-3.2zM954.7 846h3.2v3.2h-3.2zM989.9 846h3.2v3.2h-3.2zM1018.7 846h3.2v3.2h-3.2zM1034.7 846h6.4v3.2h-6.4zM1005.9 842.8h3.2v3.2h-3.2zM919.5 839.6h3.2v3.2h-3.2zM1002.7 839.6h3.2v3.2h-3.2zM1047.5 839.6h3.2v3.2h-3.2zM849.1 836.4h3.2v3.2h-3.2zM1021.9 836.4h3.2v3.2h-3.2zM1053.9 836.4h3.2v3.2h-3.2zM989.9 833.2h3.2v3.2h-3.2zM1002.7 833.2h3.2v3.2h-3.2zM1063.5 833.2h3.2v3.2h-3.2zM989.9 830h3.2v3.2h-3.2zM1028.3 830h3.2v3.2h-3.2zM1041.1 830h3.2v3.2h-3.2zM1057.1 830h9.6v3.2h-9.6zM1079.5 830h3.2v3.2h-3.2zM938.7 826.8h3.2v3.2h-3.2zM1005.9 826.8h3.2v3.2h-3.2zM1028.3 826.8h3.2v3.2h-3.2zM1050.7 826.8h3.2v3.2h-3.2zM1057.1 826.8h6.4v3.2h-6.4zM1073.1 826.8h6.4v3.2h-6.4zM903.5 823.6h3.2v3.2h-3.2zM916.3 823.6h3.2v3.2h-3.2zM932.3 823.6h3.2v3.2h-3.2zM980.3 823.6h6.4v3.2h-6.4zM1005.9 823.6h3.2v3.2h-3.2zM1018.7 823.6h3.2v3.2h-3.2zM1031.5 823.6h3.2v3.2h-3.2zM1047.5 823.6h6.4v3.2h-6.4zM1060.3 823.6h3.2v3.2h-3.2zM1066.7 823.6h6.4v3.2h-6.4zM1076.3 823.6h6.4v3.2h-6.4zM945.1 820.4h3.2v3.2h-3.2zM973.9 820.4h3.2v3.2h-3.2zM980.3 820.4h3.2v3.2h-3.2zM1005.9 820.4h6.4v3.2h-6.4zM1025.1 820.4h3.2v3.2h-3.2zM1037.9 820.4h3.2v3.2h-3.2zM1044.3 820.4h3.2v3.2h-3.2zM1053.9 820.4h6.4v3.2h-6.4zM1063.5 820.4h6.4v3.2h-6.4zM1076.3 820.4h3.2v3.2h-3.2zM922.7 817.2h3.2v3.2h-3.2zM935.5 817.2h3.2v3.2h-3.2zM996.3 817.2h3.2v3.2h-3.2zM1018.7 817.2h6.4v3.2h-6.4zM1031.5 817.2h3.2v3.2h-3.2zM1041.1 817.2h3.2v3.2h-3.2zM1047.5 817.2h3.2v3.2h-3.2zM1053.9 817.2h12.8v3.2h-12.8zM1069.9 817.2h9.6v3.2h-9.6zM1082.7 817.2h3.2v3.2h-3.2zM1095.5 817.2h3.2v3.2h-3.2zM903.5 814h3.2v3.2h-3.2zM929.1 814h3.2v3.2h-3.2zM941.9 814h3.2v3.2h-3.2zM1025.1 814h3.2v3.2h-3.2zM1037.9 814h41.6v3.2h-41.6zM1089.1 814h6.4v3.2h-6.4zM881.1 810.8h3.2v3.2h-3.2zM935.5 810.8h3.2v3.2h-3.2zM945.1 810.8h3.2v3.2h-3.2zM977.1 810.8h3.2v3.2h-3.2zM983.5 810.8h3.2v3.2h-3.2zM999.5 810.8h3.2v3.2h-3.2zM1028.3 810.8h9.6v3.2h-9.6zM1041.1 810.8h51.2v3.2h-51.2zM1146.7 810.8h3.2v3.2h-3.2zM922.7 807.6h3.2v3.2h-3.2zM929.1 807.6h3.2v3.2h-3.2zM938.7 807.6h3.2v3.2h-3.2zM961.1 807.6h3.2v3.2h-3.2zM980.3 807.6h3.2v3.2h-3.2zM1005.9 807.6h3.2v3.2h-3.2zM1012.3 807.6h6.4v3.2h-6.4zM1021.9 807.6h9.6v3.2h-9.6zM1034.7 807.6h51.2v3.2h-51.2zM1089.1 807.6h3.2v3.2h-3.2zM1095.5 807.6h6.4v3.2h-6.4zM951.5 804.4h3.2v3.2h-3.2zM967.5 804.4h3.2v3.2h-3.2zM1002.7 804.4h3.2v3.2h-3.2zM1009.1 804.4h3.2v3.2h-3.2zM1018.7 804.4h3.2v3.2h-3.2zM1028.3 804.4h60.8v3.2h-60.8zM1092.3 804.4h6.4v3.2h-6.4zM925.9 801.2h3.2v3.2h-3.2zM961.1 801.2h3.2v3.2h-3.2zM996.3 801.2h3.2v3.2h-3.2zM1015.5 801.2h6.4v3.2h-6.4zM1028.3 801.2h3.2v3.2h-3.2zM1037.9 801.2h48v3.2h-48zM1089.1 801.2h6.4v3.2h-6.4zM935.5 798h3.2v3.2h-3.2zM961.1 798h3.2v3.2h-3.2zM980.3 798h9.6v3.2h-9.6zM993.1 798h3.2v3.2h-3.2zM1012.3 798h3.2v3.2h-3.2zM1021.9 798h6.4v3.2h-6.4zM1034.7 798h54.4v3.2h-54.4zM1092.3 798h3.2v3.2h-3.2zM1098.7 798h3.2v3.2h-3.2zM1137.1 798h3.2v3.2h-3.2zM938.7 794.8h3.2v3.2h-3.2zM951.5 794.8h3.2v3.2h-3.2zM970.7 794.8h3.2v3.2h-3.2zM1021.9 794.8h3.2v3.2h-3.2zM1028.3 794.8h60.8v3.2h-60.8zM1098.7 794.8h3.2v3.2h-3.2zM1108.3 794.8h3.2v3.2h-3.2zM932.3 791.6h3.2v3.2h-3.2zM948.3 791.6h3.2v3.2h-3.2zM961.1 791.6h3.2v3.2h-3.2zM970.7 791.6h3.2v3.2h-3.2zM993.1 791.6h3.2v3.2h-3.2zM1012.3 791.6h32v3.2h-32zM1047.5 791.6h54.4v3.2h-54.4zM916.3 788.4h3.2v3.2h-3.2zM964.3 788.4h6.4v3.2h-6.4zM983.5 788.4h6.4v3.2h-6.4zM993.1 788.4h3.2v3.2h-3.2zM999.5 788.4h6.4v3.2h-6.4zM1015.5 788.4h3.2v3.2h-3.2zM1025.1 788.4h67.2v3.2h-67.2zM1095.5 788.4h3.2v3.2h-3.2zM1101.9 788.4h3.2v3.2h-3.2zM1117.9 788.4h3.2v3.2h-3.2zM919.5 785.2h3.2v3.2h-3.2zM954.7 785.2h3.2v3.2h-3.2zM970.7 785.2h3.2v3.2h-3.2zM977.1 785.2h3.2v3.2h-3.2zM986.7 785.2h12.8v3.2h-12.8zM1012.3 785.2h3.2v3.2h-3.2zM1021.9 785.2h3.2v3.2h-3.2zM1028.3 785.2h67.2v3.2h-67.2zM1108.3 785.2h3.2v3.2h-3.2zM887.5 782h3.2v3.2h-3.2zM903.5 782h3.2v3.2h-3.2zM938.7 782h3.2v3.2h-3.2zM945.1 782h3.2v3.2h-3.2zM967.5 782h3.2v3.2h-3.2zM986.7 782h3.2v3.2h-3.2zM993.1 782h3.2v3.2h-3.2zM999.5 782h6.4v3.2h-6.4zM1009.1 782h9.6v3.2h-9.6zM1025.1 782h3.2v3.2h-3.2zM1031.5 782h57.6v3.2h-57.6zM884.3 778.8h3.2v3.2h-3.2zM964.3 778.8h3.2v3.2h-3.2zM980.3 778.8h9.6v3.2h-9.6zM996.3 778.8h6.4v3.2h-6.4zM1005.9 778.8h6.4v3.2h-6.4zM1021.9 778.8h3.2v3.2h-3.2zM1028.3 778.8h54.4v3.2h-54.4zM1085.9 778.8h6.4v3.2h-6.4zM906.7 775.6h3.2v3.2h-3.2zM957.9 775.6h3.2v3.2h-3.2zM967.5 775.6h3.2v3.2h-3.2zM980.3 775.6h3.2v3.2h-3.2zM1005.9 775.6h3.2v3.2h-3.2zM1018.7 775.6h3.2v3.2h-3.2zM1025.1 775.6h3.2v3.2h-3.2zM1031.5 775.6h6.4v3.2h-6.4zM1041.1 775.6h48v3.2h-48zM1105.1 775.6h3.2v3.2h-3.2zM916.3 772.4h3.2v3.2h-3.2zM951.5 772.4h3.2v3.2h-3.2zM993.1 772.4h3.2v3.2h-3.2zM999.5 772.4h3.2v3.2h-3.2zM1009.1 772.4h3.2v3.2h-3.2zM1021.9 772.4h3.2v3.2h-3.2zM1028.3 772.4h12.8v3.2h-12.8zM1044.3 772.4h35.2v3.2h-35.2zM1092.3 772.4h3.2v3.2h-3.2zM1098.7 772.4h3.2v3.2h-3.2zM884.3 769.2h3.2v3.2h-3.2zM913.1 769.2h3.2v3.2h-3.2zM1009.1 769.2h3.2v3.2h-3.2zM1025.1 769.2h3.2v3.2h-3.2zM1031.5 769.2h6.4v3.2h-6.4zM1041.1 769.2h3.2v3.2h-3.2zM1050.7 769.2h9.6v3.2h-9.6zM1063.5 769.2h9.6v3.2h-9.6zM1089.1 769.2h3.2v3.2h-3.2zM1098.7 769.2h3.2v3.2h-3.2zM1108.3 769.2h3.2v3.2h-3.2zM858.7 766h3.2v3.2h-3.2zM970.7 766h3.2v3.2h-3.2zM977.1 766h3.2v3.2h-3.2zM986.7 766h3.2v3.2h-3.2zM1015.5 766h3.2v3.2h-3.2zM1025.1 766h9.6v3.2h-9.6zM1044.3 766h3.2v3.2h-3.2zM1050.7 766h3.2v3.2h-3.2zM1057.1 766h6.4v3.2h-6.4zM1066.7 766h3.2v3.2h-3.2zM1073.1 766h3.2v3.2h-3.2zM1079.5 766h3.2v3.2h-3.2zM957.9 762.8h3.2v3.2h-3.2zM983.5 762.8h3.2v3.2h-3.2zM1018.7 762.8h3.2v3.2h-3.2zM1031.5 762.8h3.2v3.2h-3.2zM1047.5 762.8h3.2v3.2h-3.2zM1053.9 762.8h3.2v3.2h-3.2zM1066.7 762.8h9.6v3.2h-9.6zM1085.9 762.8h3.2v3.2h-3.2zM989.9 759.6h3.2v3.2h-3.2zM1009.1 759.6h3.2v3.2h-3.2zM1031.5 759.6h3.2v3.2h-3.2zM1044.3 759.6h6.4v3.2h-6.4zM1053.9 759.6h6.4v3.2h-6.4zM1063.5 759.6h9.6v3.2h-9.6zM865.1 756.4h3.2v3.2h-3.2zM884.3 756.4h3.2v3.2h-3.2zM973.9 756.4h3.2v3.2h-3.2zM1044.3 756.4h3.2v3.2h-3.2zM1028.3 753.2h6.4v3.2h-6.4zM1063.5 753.2h3.2v3.2h-3.2zM1076.3 753.2h3.2v3.2h-3.2zM1025.1 750h3.2v3.2h-3.2zM1034.7 750h3.2v3.2h-3.2zM1041.1 750h3.2v3.2h-3.2zM1047.5 750h3.2v3.2h-3.2zM1076.3 750h3.2v3.2h-3.2zM842.7 746.8h3.2v3.2h-3.2zM999.5 746.8h3.2v3.2h-3.2zM1031.5 746.8h3.2v3.2h-3.2zM916.3 743.6h3.2v3.2h-3.2zM922.7 743.6h3.2v3.2h-3.2zM1066.7 743.6h3.2v3.2h-3.2zM1073.1 743.6h3.2v3.2h-3.2zM948.3 740.4h3.2v3.2h-3.2zM1009.1 740.4h3.2v3.2h-3.2zM1057.1 740.4h6.4v3.2h-6.4zM881.1 737.2h3.2v3.2h-3.2zM948.3 737.2h3.2v3.2h-3.2zM919.5 734h3.2v3.2h-3.2zM951.5 734h3.2v3.2h-3.2zM884.3 730.8h3.2v3.2h-3.2zM1005.9 730.8h3.2v3.2h-3.2zM1047.5 730.8h3.2v3.2h-3.2zM887.5 727.6h3.2v3.2h-3.2zM893.9 727.6h3.2v3.2h-3.2zM909.9 727.6h3.2v3.2h-3.2zM874.7 721.2h3.2v3.2h-3.2zM1037.9 718h3.2v3.2h-3.2zM902 1028.5H1090V1031.6H902z" fill="#707070" shape-rendering="crispEdges"/>
<rect x="805.95" y="664.75" width="373.3" height="368.4" fill="none" stroke="#000" stroke-width="3.1"/>
<path d="M959.5 663.2V1034.7M804.4 869.8H1180.8" stroke="#000" stroke-width="3" fill="none"/>
<path d="M791.5 983.51H805.4V989.87H791.5zM849.28 1033.7H855.84V1050.6H849.28zM791.5 891.51H805.4V897.87H791.5zM942.33 1033.7H948.89V1050.6H942.33zM791.5 799.51H805.4V805.87H791.5zM1035.38 1033.7H1041.94V1050.6H1035.38zM791.5 707.51H805.4V713.87H791.5zM1128.43 1033.7H1134.99V1050.6H1128.43z" fill="#000"/>
<path d="M791.5 1027.7H805.4M791.5 1016.21H805.4M791.5 1007.29H805.4M791.5 1000.01H805.4M791.5 993.85H805.4M791.5 988.52H805.4M791.5 983.81H805.4M791.5 951.91H805.4M791.5 935.7H805.4M791.5 924.21H805.4M791.5 915.29H805.4M791.5 908.01H805.4M791.5 901.85H805.4M791.5 896.52H805.4M791.5 891.81H805.4M791.5 859.91H805.4M791.5 843.7H805.4M791.5 832.21H805.4M791.5 823.29H805.4M791.5 816.01H805.4M791.5 809.85H805.4M791.5 804.52H805.4M791.5 799.81H805.4M791.5 767.91H805.4M791.5 751.7H805.4M791.5 740.21H805.4M791.5 731.29H805.4M791.5 724.01H805.4M791.5 717.85H805.4M791.5 712.52H805.4M791.5 707.81H805.4M791.5 677.8H805.4" stroke="#000" stroke-width="2.7" fill="none"/>
<path d="M778.6 979.6H805.4M778.6 887.6H805.4M778.6 795.6H805.4M778.6 703.6H805.4" stroke="#000" stroke-width="3.2" fill="none"/>
<path d="M811.15 1033.7V1050.6M822.77 1033.7V1050.6M831.79 1033.7V1050.6M839.16 1033.7V1050.6M845.39 1033.7V1050.6M850.78 1033.7V1050.6M855.54 1033.7V1050.6M859.8 1033.7V1062.3M887.81 1033.7V1050.6M904.2 1033.7V1050.6M915.82 1033.7V1050.6M924.84 1033.7V1050.6M932.21 1033.7V1050.6M938.44 1033.7V1050.6M943.83 1033.7V1050.6M948.59 1033.7V1050.6M952.85 1033.7V1062.3M980.86 1033.7V1050.6M997.25 1033.7V1050.6M1008.87 1033.7V1050.6M1017.89 1033.7V1050.6M1025.26 1033.7V1050.6M1031.49 1033.7V1050.6M1036.88 1033.7V1050.6M1041.64 1033.7V1050.6M1045.9 1033.7V1062.3M1073.91 1033.7V1050.6M1090.3 1033.7V1050.6M1101.92 1033.7V1050.6M1110.94 1033.7V1050.6M1118.31 1033.7V1050.6M1124.54 1033.7V1050.6M1129.93 1033.7V1050.6M1134.69 1033.7V1050.6M1138.95 1033.7V1062.3M1166.96 1033.7V1050.6" stroke="#000" stroke-width="3" fill="none"/>
<text class="a" font-size="29.5" font-weight="700" transform="translate(775.4,998.2) rotate(-90) scale(.9,1)">10</text>
<text class="a" font-size="31" font-weight="700" transform="translate(756.6,968.6) rotate(-90) scale(.8,1)">2</text>
<text class="a" font-size="34" font-weight="700" transform="translate(836.4,1096.1) scale(.745,1)">10</text>
<text class="a" font-size="34" font-weight="700" clip-path="url(#supclip)" transform="translate(866.2,1076.3) scale(.745,1)">2</text>
<text class="a" font-size="29.5" font-weight="700" transform="translate(775.4,906.2) rotate(-90) scale(.9,1)">10</text>
<text class="a" font-size="31" font-weight="700" transform="translate(756.6,876.6) rotate(-90) scale(.8,1)">3</text>
<text class="a" font-size="34" font-weight="700" transform="translate(929.45,1096.1) scale(.745,1)">10</text>
<text class="a" font-size="34" font-weight="700" clip-path="url(#supclip)" transform="translate(959.25,1076.3) scale(.745,1)">3</text>
<text class="a" font-size="29.5" font-weight="700" transform="translate(775.4,814.2) rotate(-90) scale(.9,1)">10</text>
<text class="a" font-size="31" font-weight="700" transform="translate(756.6,784.6) rotate(-90) scale(.8,1)">4</text>
<text class="a" font-size="34" font-weight="700" transform="translate(1022.5,1096.1) scale(.745,1)">10</text>
<text class="a" font-size="34" font-weight="700" clip-path="url(#supclip4)" transform="translate(1052.3,1073.3) scale(.745,1)">4</text>
<text class="a" font-size="29.5" font-weight="700" transform="translate(775.4,722.2) rotate(-90) scale(.9,1)">10</text>
<text class="a" font-size="31" font-weight="700" transform="translate(756.6,692.6) rotate(-90) scale(.8,1)">5</text>
<text class="a" font-size="34" font-weight="700" transform="translate(1115.55,1096.1) scale(.745,1)">10</text>
<text class="a" font-size="34" font-weight="700" clip-path="url(#supclip)" transform="translate(1145.35,1076.3) scale(.745,1)">5</text>
<text x="921" y="640" font-size="43" font-weight="700" textLength="124" lengthAdjust="spacing">Vector</text>
<text transform="translate(723,853.2) rotate(-90)" font-size="41.5" font-weight="700" textLength="39.4" lengthAdjust="spacing">PI</text>
<text x="1175" y="858.1" font-size="43" text-anchor="end" stroke="#0a0a0a" stroke-width="1.3">27.1</text>
<text x="1173.5" y="1021.6" font-size="43" text-anchor="end" stroke="#0a0a0a" stroke-width="1.3">13.3</text>
<text x="835.6" y="1134.1" font-size="42" font-weight="700" textLength="307.5" lengthAdjust="spacing">Annexin V FITC</text>
</g>
<g>
<path d="M1439.8 1030h3.2v3.2h-3.2zM1468.6 1030h3.2v3.2h-3.2zM1500.6 1030h3.2v3.2h-3.2zM1519.8 1030h3.2v3.2h-3.2zM1599.8 1030h3.2v3.2h-3.2zM1391.8 1026.8h3.2v3.2h-3.2zM1411 1026.8h3.2v3.2h-3.2zM1430.2 1026.8h6.4v3.2h-6.4zM1446.2 1026.8h3.2v3.2h-3.2zM1471.8 1026.8h6.4v3.2h-6.4zM1542.2 1026.8h3.2v3.2h-3.2zM1564.6 1026.8h3.2v3.2h-3.2zM1487.8 1023.6h3.2v3.2h-3.2zM1535.8 1023.6h3.2v3.2h-3.2zM1574.2 1023.6h3.2v3.2h-3.2zM1468.6 1020.4h6.4v3.2h-6.4zM1487.8 1020.4h3.2v3.2h-3.2zM1516.6 1020.4h3.2v3.2h-3.2zM1593.4 1020.4h3.2v3.2h-3.2zM1382.2 1017.2h3.2v3.2h-3.2zM1404.6 1017.2h3.2v3.2h-3.2zM1417.4 1017.2h6.4v3.2h-6.4zM1436.6 1017.2h6.4v3.2h-6.4zM1455.8 1017.2h3.2v3.2h-3.2zM1481.4 1017.2h3.2v3.2h-3.2zM1523 1017.2h3.2v3.2h-3.2zM1567.8 1017.2h3.2v3.2h-3.2zM1379 1014h3.2v3.2h-3.2zM1398.2 1014h3.2v3.2h-3.2zM1411 1014h3.2v3.2h-3.2zM1430.2 1014h3.2v3.2h-3.2zM1478.2 1014h3.2v3.2h-3.2zM1593.4 1014h3.2v3.2h-3.2zM1401.4 1010.8h3.2v3.2h-3.2zM1407.8 1010.8h28.8v3.2h-28.8zM1443 1010.8h3.2v3.2h-3.2zM1452.6 1010.8h3.2v3.2h-3.2zM1462.2 1010.8h3.2v3.2h-3.2zM1481.4 1010.8h3.2v3.2h-3.2zM1500.6 1010.8h3.2v3.2h-3.2zM1587 1010.8h3.2v3.2h-3.2zM1385.4 1007.6h3.2v3.2h-3.2zM1391.8 1007.6h6.4v3.2h-6.4zM1404.6 1007.6h3.2v3.2h-3.2zM1414.2 1007.6h12.8v3.2h-12.8zM1430.2 1007.6h6.4v3.2h-6.4zM1455.8 1007.6h6.4v3.2h-6.4zM1471.8 1007.6h3.2v3.2h-3.2zM1484.6 1007.6h3.2v3.2h-3.2zM1494.2 1007.6h3.2v3.2h-3.2zM1529.4 1007.6h3.2v3.2h-3.2zM1382.2 1004.4h3.2v3.2h-3.2zM1391.8 1004.4h9.6v3.2h-9.6zM1404.6 1004.4h3.2v3.2h-3.2zM1420.6 1004.4h3.2v3.2h-3.2zM1427 1004.4h3.2v3.2h-3.2zM1436.6 1004.4h3.2v3.2h-3.2zM1446.2 1004.4h9.6v3.2h-9.6zM1462.2 1004.4h3.2v3.2h-3.2zM1468.6 1004.4h3.2v3.2h-3.2zM1484.6 1004.4h3.2v3.2h-3.2zM1497.4 1004.4h3.2v3.2h-3.2zM1507 1004.4h3.2v3.2h-3.2zM1513.4 1004.4h3.2v3.2h-3.2zM1567.8 1004.4h3.2v3.2h-3.2zM1574.2 1004.4h3.2v3.2h-3.2zM1628.6 1004.4h6.4v3.2h-6.4zM1388.6 1001.2h12.8v3.2h-12.8zM1404.6 1001.2h3.2v3.2h-3.2zM1414.2 1001.2h12.8v3.2h-12.8zM1433.4 1001.2h3.2v3.2h-3.2zM1439.8 1001.2h9.6v3.2h-9.6zM1455.8 1001.2h3.2v3.2h-3.2zM1471.8 1001.2h6.4v3.2h-6.4zM1481.4 1001.2h3.2v3.2h-3.2zM1529.4 1001.2h3.2v3.2h-3.2zM1379 998h3.2v3.2h-3.2zM1385.4 998h6.4v3.2h-6.4zM1395 998h19.2v3.2h-19.2zM1417.4 998h25.6v3.2h-25.6zM1446.2 998h3.2v3.2h-3.2zM1459 998h3.2v3.2h-3.2zM1468.6 998h6.4v3.2h-6.4zM1481.4 998h9.6v3.2h-9.6zM1497.4 998h3.2v3.2h-3.2zM1507 998h3.2v3.2h-3.2zM1526.2 998h3.2v3.2h-3.2zM1539 998h3.2v3.2h-3.2zM1567.8 998h3.2v3.2h-3.2zM1606.2 998h3.2v3.2h-3.2zM1379 994.8h3.2v3.2h-3.2zM1388.6 994.8h16v3.2h-16zM1407.8 994.8h6.4v3.2h-6.4zM1417.4 994.8h9.6v3.2h-9.6zM1430.2 994.8h12.8v3.2h-12.8zM1446.2 994.8h3.2v3.2h-3.2zM1452.6 994.8h3.2v3.2h-3.2zM1462.2 994.8h6.4v3.2h-6.4zM1471.8 994.8h3.2v3.2h-3.2zM1481.4 994.8h3.2v3.2h-3.2zM1513.4 994.8h3.2v3.2h-3.2zM1539 994.8h3.2v3.2h-3.2zM1603 994.8h3.2v3.2h-3.2zM1379 991.6h16v3.2h-16zM1398.2 991.6h6.4v3.2h-6.4zM1407.8 991.6h12.8v3.2h-12.8zM1427 991.6h3.2v3.2h-3.2zM1433.4 991.6h3.2v3.2h-3.2zM1443 991.6h3.2v3.2h-3.2zM1449.4 991.6h12.8v3.2h-12.8zM1471.8 991.6h12.8v3.2h-12.8zM1516.6 991.6h6.4v3.2h-6.4zM1532.6 991.6h3.2v3.2h-3.2zM1564.6 991.6h3.2v3.2h-3.2zM1379 988.4h16v3.2h-16zM1398.2 988.4h9.6v3.2h-9.6zM1411 988.4h12.8v3.2h-12.8zM1427 988.4h12.8v3.2h-12.8zM1452.6 988.4h19.2v3.2h-19.2zM1475 988.4h9.6v3.2h-9.6zM1491 988.4h6.4v3.2h-6.4zM1548.6 988.4h3.2v3.2h-3.2zM1580.6 988.4h3.2v3.2h-3.2zM1379 985.2h83.2v3.2h-83.2zM1465.4 985.2h9.6v3.2h-9.6zM1481.4 985.2h6.4v3.2h-6.4zM1491 985.2h9.6v3.2h-9.6zM1545.4 985.2h3.2v3.2h-3.2zM1558.2 985.2h3.2v3.2h-3.2zM1379 982h92.8v3.2h-92.8zM1475 982h9.6v3.2h-9.6zM1494.2 982h6.4v3.2h-6.4zM1510.2 982h3.2v3.2h-3.2zM1571 982h6.4v3.2h-6.4zM1379 978.8h48v3.2h-48zM1430.2 978.8h12.8v3.2h-12.8zM1446.2 978.8h19.2v3.2h-19.2zM1468.6 978.8h12.8v3.2h-12.8zM1484.6 978.8h3.2v3.2h-3.2zM1494.2 978.8h3.2v3.2h-3.2zM1526.2 978.8h3.2v3.2h-3.2zM1603 978.8h3.2v3.2h-3.2zM1619 978.8h3.2v3.2h-3.2zM1382.2 975.6h3.2v3.2h-3.2zM1388.6 975.6h86.4v3.2h-86.4zM1494.2 975.6h6.4v3.2h-6.4zM1526.2 975.6h3.2v3.2h-3.2zM1532.6 975.6h3.2v3.2h-3.2zM1577.4 975.6h3.2v3.2h-3.2zM1379 972.4h64v3.2h-64zM1446.2 972.4h3.2v3.2h-3.2zM1452.6 972.4h6.4v3.2h-6.4zM1462.2 972.4h19.2v3.2h-19.2zM1484.6 972.4h6.4v3.2h-6.4zM1497.4 972.4h3.2v3.2h-3.2zM1503.8 972.4h3.2v3.2h-3.2zM1523 972.4h3.2v3.2h-3.2zM1529.4 972.4h3.2v3.2h-3.2zM1539 972.4h3.2v3.2h-3.2zM1577.4 972.4h3.2v3.2h-3.2zM1619 972.4h3.2v3.2h-3.2zM1379 969.2h102.4v3.2h-102.4zM1484.6 969.2h6.4v3.2h-6.4zM1494.2 969.2h9.6v3.2h-9.6zM1507 969.2h6.4v3.2h-6.4zM1523 969.2h3.2v3.2h-3.2zM1529.4 969.2h3.2v3.2h-3.2zM1542.2 969.2h6.4v3.2h-6.4zM1555 969.2h3.2v3.2h-3.2zM1583.8 969.2h3.2v3.2h-3.2zM1379 966h80v3.2h-80zM1462.2 966h6.4v3.2h-6.4zM1471.8 966h19.2v3.2h-19.2zM1494.2 966h3.2v3.2h-3.2zM1500.6 966h6.4v3.2h-6.4zM1510.2 966h6.4v3.2h-6.4zM1523 966h3.2v3.2h-3.2zM1539 966h6.4v3.2h-6.4zM1551.8 966h3.2v3.2h-3.2zM1379 962.8h105.6v3.2h-105.6zM1487.8 962.8h22.4v3.2h-22.4zM1519.8 962.8h9.6v3.2h-9.6zM1535.8 962.8h3.2v3.2h-3.2zM1545.4 962.8h3.2v3.2h-3.2zM1561.4 962.8h6.4v3.2h-6.4zM1571 962.8h6.4v3.2h-6.4zM1596.6 962.8h3.2v3.2h-3.2zM1625.4 962.8h3.2v3.2h-3.2zM1379 959.6h134.4v3.2h-134.4zM1516.6 959.6h16v3.2h-16zM1555 959.6h9.6v3.2h-9.6zM1574.2 959.6h3.2v3.2h-3.2zM1379 956.4h118.4v3.2h-118.4zM1500.6 956.4h3.2v3.2h-3.2zM1513.4 956.4h22.4v3.2h-22.4zM1542.2 956.4h3.2v3.2h-3.2zM1574.2 956.4h6.4v3.2h-6.4zM1590.2 956.4h3.2v3.2h-3.2zM1379 953.2h147.2v3.2h-147.2zM1535.8 953.2h3.2v3.2h-3.2zM1545.4 953.2h3.2v3.2h-3.2zM1561.4 953.2h3.2v3.2h-3.2zM1599.8 953.2h3.2v3.2h-3.2zM1609.4 953.2h3.2v3.2h-3.2zM1615.8 953.2h3.2v3.2h-3.2zM1644.6 953.2h3.2v3.2h-3.2zM1673.4 953.2h3.2v3.2h-3.2zM1382.2 950h134.4v3.2h-134.4zM1519.8 950h12.8v3.2h-12.8zM1535.8 950h6.4v3.2h-6.4zM1548.6 950h3.2v3.2h-3.2zM1561.4 950h3.2v3.2h-3.2zM1574.2 950h3.2v3.2h-3.2zM1587 950h3.2v3.2h-3.2zM1603 950h3.2v3.2h-3.2zM1619 950h3.2v3.2h-3.2zM1654.2 950h3.2v3.2h-3.2zM1379 946.8h6.4v3.2h-6.4zM1388.6 946.8h73.6v3.2h-73.6zM1465.4 946.8h57.6v3.2h-57.6zM1526.2 946.8h16v3.2h-16zM1561.4 946.8h6.4v3.2h-6.4zM1574.2 946.8h3.2v3.2h-3.2zM1606.2 946.8h3.2v3.2h-3.2zM1622.2 946.8h3.2v3.2h-3.2zM1667 946.8h3.2v3.2h-3.2zM1382.2 943.6h147.2v3.2h-147.2zM1532.6 943.6h12.8v3.2h-12.8zM1558.2 943.6h3.2v3.2h-3.2zM1379 940.4h144v3.2h-144zM1526.2 940.4h9.6v3.2h-9.6zM1539 940.4h3.2v3.2h-3.2zM1580.6 940.4h3.2v3.2h-3.2zM1587 940.4h3.2v3.2h-3.2zM1609.4 940.4h3.2v3.2h-3.2zM1379 937.2h153.6v3.2h-153.6zM1539 937.2h3.2v3.2h-3.2zM1545.4 937.2h3.2v3.2h-3.2zM1603 937.2h3.2v3.2h-3.2zM1644.6 937.2h3.2v3.2h-3.2zM1382.2 934h140.8v3.2h-140.8zM1526.2 934h3.2v3.2h-3.2zM1532.6 934h9.6v3.2h-9.6zM1558.2 934h6.4v3.2h-6.4zM1603 934h3.2v3.2h-3.2zM1638.2 934h3.2v3.2h-3.2zM1379 930.8h137.6v3.2h-137.6zM1519.8 930.8h6.4v3.2h-6.4zM1529.4 930.8h12.8v3.2h-12.8zM1545.4 930.8h3.2v3.2h-3.2zM1567.8 930.8h3.2v3.2h-3.2zM1580.6 930.8h3.2v3.2h-3.2zM1590.2 930.8h3.2v3.2h-3.2zM1612.6 930.8h3.2v3.2h-3.2zM1379 927.6h25.6v3.2h-25.6zM1407.8 927.6h112v3.2h-112zM1523 927.6h12.8v3.2h-12.8zM1539 927.6h9.6v3.2h-9.6zM1558.2 927.6h3.2v3.2h-3.2zM1590.2 927.6h3.2v3.2h-3.2zM1644.6 927.6h3.2v3.2h-3.2zM1379 924.4h3.2v3.2h-3.2zM1388.6 924.4h115.2v3.2h-115.2zM1507 924.4h32v3.2h-32zM1545.4 924.4h6.4v3.2h-6.4zM1577.4 924.4h3.2v3.2h-3.2zM1587 924.4h3.2v3.2h-3.2zM1603 924.4h3.2v3.2h-3.2zM1679.8 924.4h3.2v3.2h-3.2zM1379 921.2h6.4v3.2h-6.4zM1388.6 921.2h35.2v3.2h-35.2zM1427 921.2h92.8v3.2h-92.8zM1523 921.2h6.4v3.2h-6.4zM1532.6 921.2h6.4v3.2h-6.4zM1542.2 921.2h12.8v3.2h-12.8zM1577.4 921.2h6.4v3.2h-6.4zM1638.2 921.2h3.2v3.2h-3.2zM1379 918h9.6v3.2h-9.6zM1391.8 918h22.4v3.2h-22.4zM1417.4 918h12.8v3.2h-12.8zM1433.4 918h76.8v3.2h-76.8zM1513.4 918h19.2v3.2h-19.2zM1535.8 918h3.2v3.2h-3.2zM1548.6 918h3.2v3.2h-3.2zM1583.8 918h3.2v3.2h-3.2zM1593.4 918h3.2v3.2h-3.2zM1379 914.8h3.2v3.2h-3.2zM1395 914.8h124.8v3.2h-124.8zM1523 914.8h6.4v3.2h-6.4zM1535.8 914.8h6.4v3.2h-6.4zM1545.4 914.8h12.8v3.2h-12.8zM1574.2 914.8h3.2v3.2h-3.2zM1583.8 914.8h3.2v3.2h-3.2zM1593.4 914.8h3.2v3.2h-3.2zM1635 914.8h3.2v3.2h-3.2zM1379 911.6h6.4v3.2h-6.4zM1391.8 911.6h3.2v3.2h-3.2zM1398.2 911.6h28.8v3.2h-28.8zM1430.2 911.6h25.6v3.2h-25.6zM1459 911.6h22.4v3.2h-22.4zM1484.6 911.6h54.4v3.2h-54.4zM1551.8 911.6h6.4v3.2h-6.4zM1567.8 911.6h3.2v3.2h-3.2zM1590.2 911.6h3.2v3.2h-3.2zM1622.2 911.6h6.4v3.2h-6.4zM1385.4 908.4h6.4v3.2h-6.4zM1398.2 908.4h9.6v3.2h-9.6zM1417.4 908.4h3.2v3.2h-3.2zM1423.8 908.4h44.8v3.2h-44.8zM1471.8 908.4h3.2v3.2h-3.2zM1478.2 908.4h41.6v3.2h-41.6zM1523 908.4h3.2v3.2h-3.2zM1535.8 908.4h3.2v3.2h-3.2zM1542.2 908.4h6.4v3.2h-6.4zM1555 908.4h3.2v3.2h-3.2zM1567.8 908.4h3.2v3.2h-3.2zM1593.4 908.4h3.2v3.2h-3.2zM1622.2 908.4h3.2v3.2h-3.2zM1647.8 908.4h3.2v3.2h-3.2zM1401.4 905.2h6.4v3.2h-6.4zM1411 905.2h3.2v3.2h-3.2zM1417.4 905.2h3.2v3.2h-3.2zM1423.8 905.2h9.6v3.2h-9.6zM1439.8 905.2h3.2v3.2h-3.2zM1446.2 905.2h3.2v3.2h-3.2zM1452.6 905.2h67.2v3.2h-67.2zM1523 905.2h6.4v3.2h-6.4zM1532.6 905.2h3.2v3.2h-3.2zM1542.2 905.2h3.2v3.2h-3.2zM1564.6 905.2h6.4v3.2h-6.4zM1587 905.2h3.2v3.2h-3.2zM1599.8 905.2h3.2v3.2h-3.2zM1606.2 905.2h12.8v3.2h-12.8zM1628.6 905.2h3.2v3.2h-3.2zM1638.2 905.2h3.2v3.2h-3.2zM1391.8 902h3.2v3.2h-3.2zM1407.8 902h3.2v3.2h-3.2zM1417.4 902h3.2v3.2h-3.2zM1423.8 902h3.2v3.2h-3.2zM1433.4 902h6.4v3.2h-6.4zM1446.2 902h6.4v3.2h-6.4zM1455.8 902h25.6v3.2h-25.6zM1484.6 902h19.2v3.2h-19.2zM1507 902h9.6v3.2h-9.6zM1519.8 902h16v3.2h-16zM1539 902h3.2v3.2h-3.2zM1548.6 902h3.2v3.2h-3.2zM1577.4 902h3.2v3.2h-3.2zM1593.4 902h3.2v3.2h-3.2zM1599.8 902h3.2v3.2h-3.2zM1609.4 902h3.2v3.2h-3.2zM1622.2 902h3.2v3.2h-3.2zM1663.8 902h3.2v3.2h-3.2zM1411 898.8h3.2v3.2h-3.2zM1417.4 898.8h6.4v3.2h-6.4zM1430.2 898.8h6.4v3.2h-6.4zM1439.8 898.8h6.4v3.2h-6.4zM1452.6 898.8h3.2v3.2h-3.2zM1468.6 898.8h3.2v3.2h-3.2zM1475 898.8h35.2v3.2h-35.2zM1513.4 898.8h3.2v3.2h-3.2zM1519.8 898.8h3.2v3.2h-3.2zM1532.6 898.8h3.2v3.2h-3.2zM1539 898.8h3.2v3.2h-3.2zM1548.6 898.8h3.2v3.2h-3.2zM1558.2 898.8h3.2v3.2h-3.2zM1580.6 898.8h3.2v3.2h-3.2zM1622.2 898.8h3.2v3.2h-3.2zM1417.4 895.6h3.2v3.2h-3.2zM1436.6 895.6h3.2v3.2h-3.2zM1443 895.6h9.6v3.2h-9.6zM1455.8 895.6h6.4v3.2h-6.4zM1468.6 895.6h3.2v3.2h-3.2zM1475 895.6h9.6v3.2h-9.6zM1487.8 895.6h12.8v3.2h-12.8zM1503.8 895.6h3.2v3.2h-3.2zM1513.4 895.6h6.4v3.2h-6.4zM1529.4 895.6h3.2v3.2h-3.2zM1548.6 895.6h3.2v3.2h-3.2zM1555 895.6h3.2v3.2h-3.2zM1577.4 895.6h3.2v3.2h-3.2zM1644.6 895.6h3.2v3.2h-3.2zM1407.8 892.4h3.2v3.2h-3.2zM1420.6 892.4h3.2v3.2h-3.2zM1433.4 892.4h3.2v3.2h-3.2zM1446.2 892.4h3.2v3.2h-3.2zM1459 892.4h6.4v3.2h-6.4zM1468.6 892.4h3.2v3.2h-3.2zM1481.4 892.4h3.2v3.2h-3.2zM1491 892.4h3.2v3.2h-3.2zM1507 892.4h3.2v3.2h-3.2zM1519.8 892.4h3.2v3.2h-3.2zM1526.2 892.4h3.2v3.2h-3.2zM1532.6 892.4h3.2v3.2h-3.2zM1539 892.4h3.2v3.2h-3.2zM1571 892.4h3.2v3.2h-3.2zM1603 892.4h3.2v3.2h-3.2zM1615.8 892.4h3.2v3.2h-3.2zM1631.8 892.4h3.2v3.2h-3.2zM1651 892.4h3.2v3.2h-3.2zM1414.2 889.2h3.2v3.2h-3.2zM1439.8 889.2h6.4v3.2h-6.4zM1449.4 889.2h3.2v3.2h-3.2zM1455.8 889.2h3.2v3.2h-3.2zM1465.4 889.2h3.2v3.2h-3.2zM1475 889.2h6.4v3.2h-6.4zM1487.8 889.2h3.2v3.2h-3.2zM1503.8 889.2h3.2v3.2h-3.2zM1510.2 889.2h3.2v3.2h-3.2zM1519.8 889.2h6.4v3.2h-6.4zM1529.4 889.2h3.2v3.2h-3.2zM1580.6 889.2h3.2v3.2h-3.2zM1596.6 889.2h3.2v3.2h-3.2zM1404.6 886h6.4v3.2h-6.4zM1446.2 886h3.2v3.2h-3.2zM1452.6 886h3.2v3.2h-3.2zM1465.4 886h3.2v3.2h-3.2zM1481.4 886h3.2v3.2h-3.2zM1497.4 886h6.4v3.2h-6.4zM1510.2 886h3.2v3.2h-3.2zM1519.8 886h3.2v3.2h-3.2zM1548.6 886h3.2v3.2h-3.2zM1571 886h3.2v3.2h-3.2zM1587 886h3.2v3.2h-3.2zM1596.6 886h3.2v3.2h-3.2zM1603 886h3.2v3.2h-3.2zM1615.8 886h6.4v3.2h-6.4zM1628.6 886h6.4v3.2h-6.4zM1660.6 886h3.2v3.2h-3.2zM1379 882.8h3.2v3.2h-3.2zM1462.2 882.8h3.2v3.2h-3.2zM1481.4 882.8h6.4v3.2h-6.4zM1491 882.8h3.2v3.2h-3.2zM1507 882.8h3.2v3.2h-3.2zM1526.2 882.8h3.2v3.2h-3.2zM1548.6 882.8h3.2v3.2h-3.2zM1561.4 882.8h6.4v3.2h-6.4zM1571 882.8h3.2v3.2h-3.2zM1580.6 882.8h3.2v3.2h-3.2zM1622.2 882.8h3.2v3.2h-3.2zM1628.6 882.8h6.4v3.2h-6.4zM1638.2 882.8h3.2v3.2h-3.2zM1647.8 882.8h3.2v3.2h-3.2zM1385.4 879.6h3.2v3.2h-3.2zM1433.4 879.6h3.2v3.2h-3.2zM1455.8 879.6h3.2v3.2h-3.2zM1465.4 879.6h3.2v3.2h-3.2zM1500.6 879.6h3.2v3.2h-3.2zM1513.4 879.6h12.8v3.2h-12.8zM1583.8 879.6h3.2v3.2h-3.2zM1615.8 879.6h3.2v3.2h-3.2zM1487.8 876.4h6.4v3.2h-6.4zM1529.4 876.4h3.2v3.2h-3.2zM1583.8 876.4h3.2v3.2h-3.2zM1593.4 876.4h3.2v3.2h-3.2zM1603 876.4h3.2v3.2h-3.2zM1615.8 876.4h3.2v3.2h-3.2zM1622.2 876.4h6.4v3.2h-6.4zM1641.4 876.4h3.2v3.2h-3.2zM1494.2 873.2h6.4v3.2h-6.4zM1532.6 873.2h3.2v3.2h-3.2zM1619 873.2h3.2v3.2h-3.2zM1631.8 873.2h6.4v3.2h-6.4zM1641.4 873.2h3.2v3.2h-3.2zM1654.2 873.2h3.2v3.2h-3.2zM1497.4 870h3.2v3.2h-3.2zM1519.8 870h3.2v3.2h-3.2zM1571 870h3.2v3.2h-3.2zM1583.8 870h6.4v3.2h-6.4zM1609.4 870h9.6v3.2h-9.6zM1622.2 870h3.2v3.2h-3.2zM1628.6 870h3.2v3.2h-3.2zM1603 866.8h3.2v3.2h-3.2zM1612.6 866.8h3.2v3.2h-3.2zM1631.8 866.8h3.2v3.2h-3.2zM1494.2 863.6h3.2v3.2h-3.2zM1535.8 863.6h3.2v3.2h-3.2zM1551.8 863.6h3.2v3.2h-3.2zM1596.6 863.6h3.2v3.2h-3.2zM1615.8 863.6h3.2v3.2h-3.2zM1622.2 863.6h3.2v3.2h-3.2zM1631.8 863.6h9.6v3.2h-9.6zM1462.2 860.4h3.2v3.2h-3.2zM1529.4 860.4h3.2v3.2h-3.2zM1551.8 860.4h3.2v3.2h-3.2zM1615.8 860.4h6.4v3.2h-6.4zM1625.4 860.4h6.4v3.2h-6.4zM1638.2 860.4h3.2v3.2h-3.2zM1487.8 857.2h3.2v3.2h-3.2zM1500.6 857.2h3.2v3.2h-3.2zM1526.2 857.2h3.2v3.2h-3.2zM1625.4 857.2h6.4v3.2h-6.4zM1411 854h3.2v3.2h-3.2zM1420.6 854h3.2v3.2h-3.2zM1494.2 854h3.2v3.2h-3.2zM1529.4 854h3.2v3.2h-3.2zM1606.2 854h3.2v3.2h-3.2zM1619 854h3.2v3.2h-3.2zM1628.6 854h6.4v3.2h-6.4zM1638.2 854h3.2v3.2h-3.2zM1500.6 850.8h3.2v3.2h-3.2zM1574.2 850.8h3.2v3.2h-3.2zM1612.6 850.8h3.2v3.2h-3.2zM1628.6 850.8h9.6v3.2h-9.6zM1641.4 850.8h3.2v3.2h-3.2zM1654.2 850.8h3.2v3.2h-3.2zM1503.8 847.6h3.2v3.2h-3.2zM1609.4 847.6h6.4v3.2h-6.4zM1622.2 847.6h6.4v3.2h-6.4zM1635 847.6h6.4v3.2h-6.4zM1452.6 844.4h3.2v3.2h-3.2zM1555 844.4h3.2v3.2h-3.2zM1622.2 844.4h6.4v3.2h-6.4zM1631.8 844.4h9.6v3.2h-9.6zM1654.2 844.4h3.2v3.2h-3.2zM1551.8 841.2h3.2v3.2h-3.2zM1574.2 841.2h3.2v3.2h-3.2zM1606.2 841.2h3.2v3.2h-3.2zM1635 841.2h6.4v3.2h-6.4zM1644.6 841.2h3.2v3.2h-3.2zM1382.2 838h3.2v3.2h-3.2zM1615.8 838h3.2v3.2h-3.2zM1628.6 838h6.4v3.2h-6.4zM1641.4 838h6.4v3.2h-6.4zM1443 834.8h6.4v3.2h-6.4zM1529.4 834.8h3.2v3.2h-3.2zM1558.2 834.8h3.2v3.2h-3.2zM1567.8 834.8h3.2v3.2h-3.2zM1635 834.8h3.2v3.2h-3.2zM1443 831.6h3.2v3.2h-3.2zM1539 831.6h3.2v3.2h-3.2zM1628.6 831.6h3.2v3.2h-3.2zM1436.6 828.4h3.2v3.2h-3.2zM1465.4 828.4h3.2v3.2h-3.2zM1519.8 828.4h3.2v3.2h-3.2zM1558.2 828.4h3.2v3.2h-3.2zM1567.8 828.4h3.2v3.2h-3.2zM1580.6 828.4h3.2v3.2h-3.2zM1587 828.4h3.2v3.2h-3.2zM1631.8 828.4h3.2v3.2h-3.2zM1638.2 828.4h3.2v3.2h-3.2zM1651 828.4h3.2v3.2h-3.2zM1462.2 825.2h3.2v3.2h-3.2zM1507 825.2h3.2v3.2h-3.2zM1529.4 825.2h3.2v3.2h-3.2zM1622.2 825.2h6.4v3.2h-6.4zM1638.2 825.2h3.2v3.2h-3.2zM1647.8 825.2h3.2v3.2h-3.2zM1439.8 822h3.2v3.2h-3.2zM1516.6 822h3.2v3.2h-3.2zM1526.2 822h3.2v3.2h-3.2zM1609.4 822h9.6v3.2h-9.6zM1622.2 822h6.4v3.2h-6.4zM1638.2 822h6.4v3.2h-6.4zM1580.6 818.8h3.2v3.2h-3.2zM1587 818.8h3.2v3.2h-3.2zM1619 818.8h3.2v3.2h-3.2zM1625.4 818.8h3.2v3.2h-3.2zM1635 818.8h6.4v3.2h-6.4zM1644.6 818.8h3.2v3.2h-3.2zM1404.6 815.6h3.2v3.2h-3.2zM1478.2 815.6h3.2v3.2h-3.2zM1484.6 815.6h3.2v3.2h-3.2zM1596.6 815.6h3.2v3.2h-3.2zM1625.4 815.6h12.8v3.2h-12.8zM1641.4 815.6h3.2v3.2h-3.2zM1654.2 815.6h3.2v3.2h-3.2zM1663.8 815.6h3.2v3.2h-3.2zM1670.2 815.6h3.2v3.2h-3.2zM1689.4 815.6h3.2v3.2h-3.2zM1551.8 812.4h3.2v3.2h-3.2zM1587 812.4h3.2v3.2h-3.2zM1599.8 812.4h3.2v3.2h-3.2zM1612.6 812.4h3.2v3.2h-3.2zM1619 812.4h6.4v3.2h-6.4zM1628.6 812.4h6.4v3.2h-6.4zM1638.2 812.4h3.2v3.2h-3.2zM1644.6 812.4h6.4v3.2h-6.4zM1657.4 812.4h6.4v3.2h-6.4zM1414.2 809.2h3.2v3.2h-3.2zM1433.4 809.2h3.2v3.2h-3.2zM1443 809.2h3.2v3.2h-3.2zM1449.4 809.2h3.2v3.2h-3.2zM1510.2 809.2h3.2v3.2h-3.2zM1532.6 809.2h3.2v3.2h-3.2zM1580.6 809.2h6.4v3.2h-6.4zM1596.6 809.2h3.2v3.2h-3.2zM1603 809.2h9.6v3.2h-9.6zM1615.8 809.2h16v3.2h-16zM1635 809.2h6.4v3.2h-6.4zM1644.6 809.2h6.4v3.2h-6.4zM1481.4 806h3.2v3.2h-3.2zM1487.8 806h3.2v3.2h-3.2zM1535.8 806h3.2v3.2h-3.2zM1606.2 806h6.4v3.2h-6.4zM1615.8 806h6.4v3.2h-6.4zM1625.4 806h6.4v3.2h-6.4zM1635 806h9.6v3.2h-9.6zM1647.8 806h6.4v3.2h-6.4zM1657.4 806h3.2v3.2h-3.2zM1532.6 802.8h3.2v3.2h-3.2zM1555 802.8h3.2v3.2h-3.2zM1567.8 802.8h3.2v3.2h-3.2zM1596.6 802.8h3.2v3.2h-3.2zM1606.2 802.8h3.2v3.2h-3.2zM1612.6 802.8h38.4v3.2h-38.4zM1676.6 802.8h3.2v3.2h-3.2zM1462.2 799.6h3.2v3.2h-3.2zM1529.4 799.6h3.2v3.2h-3.2zM1545.4 799.6h3.2v3.2h-3.2zM1577.4 799.6h3.2v3.2h-3.2zM1593.4 799.6h3.2v3.2h-3.2zM1612.6 799.6h44.8v3.2h-44.8zM1679.8 799.6h3.2v3.2h-3.2zM1539 796.4h3.2v3.2h-3.2zM1567.8 796.4h3.2v3.2h-3.2zM1577.4 796.4h12.8v3.2h-12.8zM1596.6 796.4h3.2v3.2h-3.2zM1606.2 796.4h9.6v3.2h-9.6zM1619 796.4h16v3.2h-16zM1638.2 796.4h12.8v3.2h-12.8zM1654.2 796.4h3.2v3.2h-3.2zM1455.8 793.2h3.2v3.2h-3.2zM1551.8 793.2h3.2v3.2h-3.2zM1558.2 793.2h3.2v3.2h-3.2zM1564.6 793.2h3.2v3.2h-3.2zM1571 793.2h3.2v3.2h-3.2zM1580.6 793.2h3.2v3.2h-3.2zM1587 793.2h16v3.2h-16zM1606.2 793.2h12.8v3.2h-12.8zM1622.2 793.2h28.8v3.2h-28.8zM1654.2 793.2h3.2v3.2h-3.2zM1660.6 793.2h3.2v3.2h-3.2zM1676.6 793.2h3.2v3.2h-3.2zM1705.4 793.2h3.2v3.2h-3.2zM1529.4 790h3.2v3.2h-3.2zM1551.8 790h6.4v3.2h-6.4zM1561.4 790h12.8v3.2h-12.8zM1577.4 790h3.2v3.2h-3.2zM1583.8 790h6.4v3.2h-6.4zM1596.6 790h6.4v3.2h-6.4zM1606.2 790h48v3.2h-48zM1660.6 790h3.2v3.2h-3.2zM1670.2 790h3.2v3.2h-3.2zM1411 786.8h3.2v3.2h-3.2zM1423.8 786.8h3.2v3.2h-3.2zM1497.4 786.8h6.4v3.2h-6.4zM1523 786.8h9.6v3.2h-9.6zM1545.4 786.8h3.2v3.2h-3.2zM1558.2 786.8h3.2v3.2h-3.2zM1567.8 786.8h6.4v3.2h-6.4zM1580.6 786.8h3.2v3.2h-3.2zM1590.2 786.8h6.4v3.2h-6.4zM1599.8 786.8h48v3.2h-48zM1651 786.8h6.4v3.2h-6.4zM1660.6 786.8h6.4v3.2h-6.4zM1417.4 783.6h3.2v3.2h-3.2zM1484.6 783.6h3.2v3.2h-3.2zM1513.4 783.6h3.2v3.2h-3.2zM1542.2 783.6h16v3.2h-16zM1561.4 783.6h9.6v3.2h-9.6zM1580.6 783.6h22.4v3.2h-22.4zM1606.2 783.6h51.2v3.2h-51.2zM1660.6 783.6h3.2v3.2h-3.2zM1673.4 783.6h3.2v3.2h-3.2zM1545.4 780.4h3.2v3.2h-3.2zM1551.8 780.4h9.6v3.2h-9.6zM1564.6 780.4h3.2v3.2h-3.2zM1574.2 780.4h3.2v3.2h-3.2zM1580.6 780.4h3.2v3.2h-3.2zM1587 780.4h6.4v3.2h-6.4zM1596.6 780.4h60.8v3.2h-60.8zM1660.6 780.4h3.2v3.2h-3.2zM1417.4 777.2h3.2v3.2h-3.2zM1503.8 777.2h3.2v3.2h-3.2zM1526.2 777.2h3.2v3.2h-3.2zM1532.6 777.2h3.2v3.2h-3.2zM1545.4 777.2h32v3.2h-32zM1580.6 777.2h22.4v3.2h-22.4zM1606.2 777.2h6.4v3.2h-6.4zM1615.8 777.2h6.4v3.2h-6.4zM1625.4 777.2h22.4v3.2h-22.4zM1651 777.2h3.2v3.2h-3.2zM1673.4 777.2h3.2v3.2h-3.2zM1439.8 774h6.4v3.2h-6.4zM1545.4 774h3.2v3.2h-3.2zM1564.6 774h6.4v3.2h-6.4zM1577.4 774h19.2v3.2h-19.2zM1599.8 774h6.4v3.2h-6.4zM1609.4 774h38.4v3.2h-38.4zM1651 774h6.4v3.2h-6.4zM1663.8 774h3.2v3.2h-3.2zM1423.8 770.8h3.2v3.2h-3.2zM1526.2 770.8h3.2v3.2h-3.2zM1545.4 770.8h6.4v3.2h-6.4zM1555 770.8h3.2v3.2h-3.2zM1561.4 770.8h22.4v3.2h-22.4zM1590.2 770.8h19.2v3.2h-19.2zM1612.6 770.8h9.6v3.2h-9.6zM1625.4 770.8h3.2v3.2h-3.2zM1631.8 770.8h3.2v3.2h-3.2zM1638.2 770.8h16v3.2h-16zM1401.4 767.6h3.2v3.2h-3.2zM1452.6 767.6h3.2v3.2h-3.2zM1478.2 767.6h3.2v3.2h-3.2zM1484.6 767.6h3.2v3.2h-3.2zM1539 767.6h6.4v3.2h-6.4zM1555 767.6h6.4v3.2h-6.4zM1567.8 767.6h6.4v3.2h-6.4zM1577.4 767.6h6.4v3.2h-6.4zM1587 767.6h9.6v3.2h-9.6zM1599.8 767.6h3.2v3.2h-3.2zM1609.4 767.6h35.2v3.2h-35.2zM1651 767.6h3.2v3.2h-3.2zM1657.4 767.6h3.2v3.2h-3.2zM1670.2 767.6h3.2v3.2h-3.2zM1468.6 764.4h3.2v3.2h-3.2zM1542.2 764.4h12.8v3.2h-12.8zM1571 764.4h3.2v3.2h-3.2zM1580.6 764.4h3.2v3.2h-3.2zM1587 764.4h9.6v3.2h-9.6zM1599.8 764.4h3.2v3.2h-3.2zM1609.4 764.4h3.2v3.2h-3.2zM1619 764.4h12.8v3.2h-12.8zM1635 764.4h19.2v3.2h-19.2zM1657.4 764.4h3.2v3.2h-3.2zM1663.8 764.4h3.2v3.2h-3.2zM1411 761.2h3.2v3.2h-3.2zM1468.6 761.2h6.4v3.2h-6.4zM1516.6 761.2h3.2v3.2h-3.2zM1523 761.2h3.2v3.2h-3.2zM1535.8 761.2h3.2v3.2h-3.2zM1577.4 761.2h3.2v3.2h-3.2zM1593.4 761.2h3.2v3.2h-3.2zM1599.8 761.2h6.4v3.2h-6.4zM1615.8 761.2h19.2v3.2h-19.2zM1638.2 761.2h6.4v3.2h-6.4zM1654.2 761.2h3.2v3.2h-3.2zM1660.6 761.2h3.2v3.2h-3.2zM1510.2 758h3.2v3.2h-3.2zM1558.2 758h3.2v3.2h-3.2zM1580.6 758h6.4v3.2h-6.4zM1596.6 758h3.2v3.2h-3.2zM1612.6 758h19.2v3.2h-19.2zM1635 758h12.8v3.2h-12.8zM1651 758h6.4v3.2h-6.4zM1545.4 754.8h3.2v3.2h-3.2zM1555 754.8h3.2v3.2h-3.2zM1599.8 754.8h3.2v3.2h-3.2zM1606.2 754.8h3.2v3.2h-3.2zM1612.6 754.8h6.4v3.2h-6.4zM1622.2 754.8h6.4v3.2h-6.4zM1631.8 754.8h9.6v3.2h-9.6zM1644.6 754.8h3.2v3.2h-3.2zM1651 754.8h3.2v3.2h-3.2zM1670.2 754.8h3.2v3.2h-3.2zM1430.2 751.6h3.2v3.2h-3.2zM1510.2 751.6h3.2v3.2h-3.2zM1590.2 751.6h3.2v3.2h-3.2zM1596.6 751.6h3.2v3.2h-3.2zM1603 751.6h3.2v3.2h-3.2zM1619 751.6h6.4v3.2h-6.4zM1631.8 751.6h3.2v3.2h-3.2zM1638.2 751.6h3.2v3.2h-3.2zM1644.6 751.6h6.4v3.2h-6.4zM1663.8 751.6h3.2v3.2h-3.2zM1670.2 751.6h3.2v3.2h-3.2zM1420.6 748.4h3.2v3.2h-3.2zM1468.6 748.4h3.2v3.2h-3.2zM1580.6 748.4h3.2v3.2h-3.2zM1615.8 748.4h6.4v3.2h-6.4zM1628.6 748.4h3.2v3.2h-3.2zM1676.6 748.4h3.2v3.2h-3.2zM1548.6 745.2h3.2v3.2h-3.2zM1587 745.2h3.2v3.2h-3.2zM1599.8 745.2h3.2v3.2h-3.2zM1612.6 745.2h3.2v3.2h-3.2zM1625.4 745.2h3.2v3.2h-3.2zM1641.4 745.2h3.2v3.2h-3.2zM1676.6 745.2h3.2v3.2h-3.2zM1510.2 742h3.2v3.2h-3.2zM1583.8 742h3.2v3.2h-3.2zM1625.4 742h3.2v3.2h-3.2zM1638.2 742h6.4v3.2h-6.4zM1535.8 738.8h3.2v3.2h-3.2zM1564.6 738.8h3.2v3.2h-3.2zM1587 738.8h3.2v3.2h-3.2zM1593.4 738.8h3.2v3.2h-3.2zM1599.8 738.8h3.2v3.2h-3.2zM1628.6 738.8h3.2v3.2h-3.2zM1651 738.8h3.2v3.2h-3.2zM1455.8 735.6h3.2v3.2h-3.2zM1631.8 735.6h6.4v3.2h-6.4zM1462.2 732.4h3.2v3.2h-3.2zM1529.4 732.4h3.2v3.2h-3.2zM1644.6 732.4h3.2v3.2h-3.2zM1433.4 729.2h3.2v3.2h-3.2zM1641.4 729.2h3.2v3.2h-3.2zM1449.4 726h3.2v3.2h-3.2zM1603 726h3.2v3.2h-3.2zM1516.6 722.8h3.2v3.2h-3.2zM1587 722.8h3.2v3.2h-3.2zM1609.4 722.8h3.2v3.2h-3.2zM1523 719.6h3.2v3.2h-3.2zM1449.4 713.2h3.2v3.2h-3.2zM1619 713.2h3.2v3.2h-3.2zM1379 1030.2H1647V1033.2H1379zM1650 1030.2H1659V1033.2H1650zM1379 925H1382.2V1033.2H1379z" fill="#707070" shape-rendering="crispEdges"/>
<rect x="1377.45" y="666.25" width="373" height="368.5" fill="none" stroke="#000" stroke-width="3.1"/>
<path d="M1531.3 664.7V1036.3M1375.9 871.6H1752" stroke="#000" stroke-width="3" fill="none"/>
<path d="M1363 985.01H1376.9V991.37H1363zM1420.78 1035.3H1427.34V1052.2H1420.78zM1363 893.01H1376.9V899.37H1363zM1513.83 1035.3H1520.39V1052.2H1513.83zM1363 801.01H1376.9V807.37H1363zM1606.88 1035.3H1613.44V1052.2H1606.88zM1363 709.01H1376.9V715.37H1363zM1699.93 1035.3H1706.49V1052.2H1699.93z" fill="#000"/>
<path d="M1363 1029.2H1376.9M1363 1017.71H1376.9M1363 1008.79H1376.9M1363 1001.51H1376.9M1363 995.35H1376.9M1363 990.02H1376.9M1363 985.31H1376.9M1363 953.41H1376.9M1363 937.2H1376.9M1363 925.71H1376.9M1363 916.79H1376.9M1363 909.51H1376.9M1363 903.35H1376.9M1363 898.02H1376.9M1363 893.31H1376.9M1363 861.41H1376.9M1363 845.2H1376.9M1363 833.71H1376.9M1363 824.79H1376.9M1363 817.51H1376.9M1363 811.35H1376.9M1363 806.02H1376.9M1363 801.31H1376.9M1363 769.41H1376.9M1363 753.2H1376.9M1363 741.71H1376.9M1363 732.79H1376.9M1363 725.51H1376.9M1363 719.35H1376.9M1363 714.02H1376.9M1363 709.31H1376.9M1363 679.3H1376.9" stroke="#000" stroke-width="2.7" fill="none"/>
<path d="M1350.1 981.1H1376.9M1350.1 889.1H1376.9M1350.1 797.1H1376.9M1350.1 705.1H1376.9" stroke="#000" stroke-width="3.2" fill="none"/>
<path d="M1382.65 1035.3V1052.2M1394.27 1035.3V1052.2M1403.29 1035.3V1052.2M1410.66 1035.3V1052.2M1416.89 1035.3V1052.2M1422.28 1035.3V1052.2M1427.04 1035.3V1052.2M1431.3 1035.3V1063.9M1459.31 1035.3V1052.2M1475.7 1035.3V1052.2M1487.32 1035.3V1052.2M1496.34 1035.3V1052.2M1503.71 1035.3V1052.2M1509.94 1035.3V1052.2M1515.33 1035.3V1052.2M1520.09 1035.3V1052.2M1524.35 1035.3V1063.9M1552.36 1035.3V1052.2M1568.75 1035.3V1052.2M1580.37 1035.3V1052.2M1589.39 1035.3V1052.2M1596.76 1035.3V1052.2M1602.99 1035.3V1052.2M1608.38 1035.3V1052.2M1613.14 1035.3V1052.2M1617.4 1035.3V1063.9M1645.41 1035.3V1052.2M1661.8 1035.3V1052.2M1673.42 1035.3V1052.2M1682.44 1035.3V1052.2M1689.81 1035.3V1052.2M1696.04 1035.3V1052.2M1701.43 1035.3V1052.2M1706.19 1035.3V1052.2M1710.45 1035.3V1063.9M1738.46 1035.3V1052.2" stroke="#000" stroke-width="3" fill="none"/>
<text class="a" font-size="29.5" font-weight="700" transform="translate(1346.9,999.7) rotate(-90) scale(.9,1)">10</text>
<text class="a" font-size="31" font-weight="700" transform="translate(1328.1,970.1) rotate(-90) scale(.8,1)">2</text>
<text class="a" font-size="34" font-weight="700" transform="translate(1407.9,1097.7) scale(.745,1)">10</text>
<text class="a" font-size="34" font-weight="700" clip-path="url(#supclip)" transform="translate(1437.7,1077.9) scale(.745,1)">2</text>
<text class="a" font-size="29.5" font-weight="700" transform="translate(1346.9,907.7) rotate(-90) scale(.9,1)">10</text>
<text class="a" font-size="31" font-weight="700" transform="translate(1328.1,878.1) rotate(-90) scale(.8,1)">3</text>
<text class="a" font-size="34" font-weight="700" transform="translate(1500.95,1097.7) scale(.745,1)">10</text>
<text class="a" font-size="34" font-weight="700" clip-path="url(#supclip)" transform="translate(1530.75,1077.9) scale(.745,1)">3</text>
<text class="a" font-size="29.5" font-weight="700" transform="translate(1346.9,815.7) rotate(-90) scale(.9,1)">10</text>
<text class="a" font-size="31" font-weight="700" transform="translate(1328.1,786.1) rotate(-90) scale(.8,1)">4</text>
<text class="a" font-size="34" font-weight="700" transform="translate(1594,1097.7) scale(.745,1)">10</text>
<text class="a" font-size="34" font-weight="700" clip-path="url(#supclip4)" transform="translate(1623.8,1074.9) scale(.745,1)">4</text>
<text class="a" font-size="29.5" font-weight="700" transform="translate(1346.9,723.7) rotate(-90) scale(.9,1)">10</text>
<text class="a" font-size="31" font-weight="700" transform="translate(1328.1,694.1) rotate(-90) scale(.8,1)">5</text>
<text class="a" font-size="34" font-weight="700" transform="translate(1687.05,1097.7) scale(.745,1)">10</text>
<text class="a" font-size="34" font-weight="700" clip-path="url(#supclip)" transform="translate(1716.85,1077.9) scale(.745,1)">5</text>
<text x="1420.3" y="640.3" font-size="43" font-weight="700" textLength="280.5" lengthAdjust="spacing">Vector+HIF-1α</text>
<text transform="translate(1300.9,853.2) rotate(-90)" font-size="41.5" font-weight="700" textLength="39.4" lengthAdjust="spacing">PI</text>
<text x="1744" y="858.2" font-size="43" text-anchor="end" stroke="#0a0a0a" stroke-width="1.3">19.3</text>
<text x="1744" y="1023.6" font-size="43" text-anchor="end" stroke="#0a0a0a" stroke-width="1.3">10.5</text>
<text x="1406.4" y="1134.5" font-size="42" font-weight="700" textLength="310" lengthAdjust="spacing">Annexin V FITC</text>
</g>
</g>
</svg></body></html>
